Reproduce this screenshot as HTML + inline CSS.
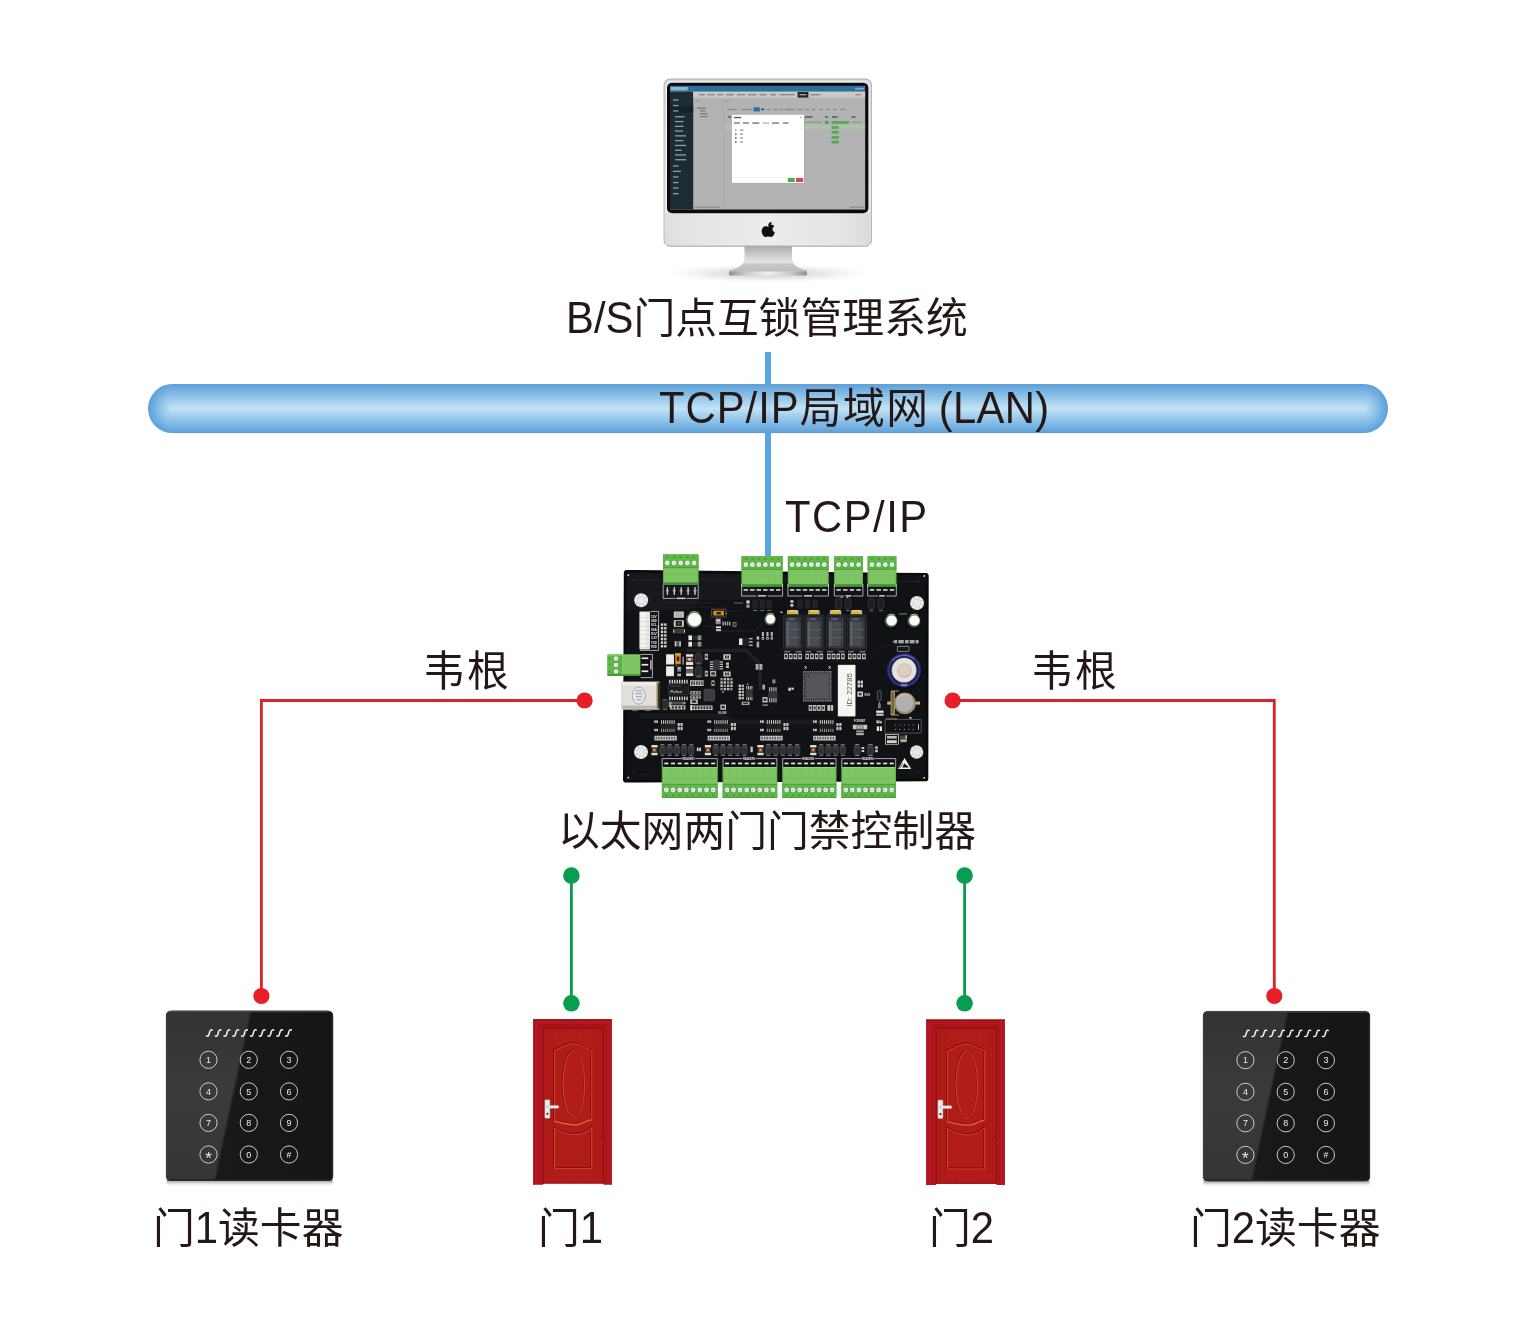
<!DOCTYPE html>
<html lang="zh-CN">
<head>
<meta charset="utf-8">
<title>以太网两门门禁控制器 系统拓扑</title>
<style>
html,body{margin:0;padding:0;background:#fff;}
body{width:1536px;height:1318px;position:relative;overflow:hidden;
 font-family:"Liberation Sans","Noto Sans CJK SC",sans-serif;font-weight:400;color:#231815;}
#g{position:absolute;left:0;top:0;display:block;will-change:transform;}
.lb{position:absolute;will-change:transform;white-space:nowrap;font-size:41.8px;line-height:50px;height:50px;margin:0;}
.lb .l{display:inline-block;transform:scaleY(1.06);transform-origin:0 39.6px;}
</style>
</head>
<body>

<svg id="g" width="1536" height="1318" viewBox="0 0 1536 1318">
<defs>
<linearGradient id="barG" x1="0" y1="0" x2="0" y2="1">
 <stop offset="0" stop-color="#5d9fd6"/>
 <stop offset="0.12" stop-color="#72b0e2"/>
 <stop offset="0.5" stop-color="#c3e3f6"/>
 <stop offset="0.88" stop-color="#72b0e2"/>
 <stop offset="1" stop-color="#5d9fd6"/>
</linearGradient>
<linearGradient id="mBody" x1="0" y1="0" x2="0" y2="1">
 <stop offset="0" stop-color="#d9dadc"/><stop offset="0.8" stop-color="#e6e7e9"/><stop offset="1" stop-color="#dcdddf"/>
</linearGradient>
<linearGradient id="mChin" x1="0" y1="0" x2="1" y2="0">
 <stop offset="0" stop-color="#dddee0"/><stop offset="0.12" stop-color="#e3e4e6"/><stop offset="0.5" stop-color="#ececee"/><stop offset="0.88" stop-color="#e3e4e6"/><stop offset="1" stop-color="#d9dadc"/>
</linearGradient>
<linearGradient id="mNeck" x1="0" y1="0" x2="0" y2="1">
 <stop offset="0" stop-color="#a9aaab"/><stop offset="0.25" stop-color="#c6c7c8"/><stop offset="0.55" stop-color="#e4e4e5"/><stop offset="0.62" stop-color="#c9c9ca"/><stop offset="0.85" stop-color="#bdbdbe"/><stop offset="1" stop-color="#d4d4d5"/>
</linearGradient>
<linearGradient id="mBase" x1="0" y1="0" x2="1" y2="0">
 <stop offset="0" stop-color="#8d8d8e"/><stop offset="0.2" stop-color="#c9c9ca"/><stop offset="0.5" stop-color="#f2f2f2"/><stop offset="0.8" stop-color="#c9c9ca"/><stop offset="1" stop-color="#8d8d8e"/>
</linearGradient>
<radialGradient id="mShadow" cx="0.5" cy="0.5" r="0.5">
 <stop offset="0" stop-color="#b9b9b9" stop-opacity="0.75"/><stop offset="0.55" stop-color="#cfcfcf" stop-opacity="0.45"/><stop offset="1" stop-color="#e8e8e8" stop-opacity="0"/>
</radialGradient>
<clipPath id="scrClip"><rect x="670" y="85.7" width="195.4" height="124"/></clipPath>

<linearGradient id="rdGloss" x1="0" y1="0" x2="0" y2="1">
 <stop offset="0" stop-color="#313233"/><stop offset="0.45" stop-color="#3a3a3b"/><stop offset="1" stop-color="#353536"/>
</linearGradient>
<linearGradient id="rdDark" x1="0" y1="0" x2="1" y2="0">
 <stop offset="0" stop-color="#1b1b1c"/><stop offset="1" stop-color="#151516"/>
</linearGradient>
<radialGradient id="rdSh" cx="0.5" cy="0.5" r="0.5">
 <stop offset="0.7" stop-color="#8a8a8a" stop-opacity="0.35"/><stop offset="1" stop-color="#c8c8c8" stop-opacity="0"/>
</radialGradient>
<clipPath id="rdClip"><rect x="166.1" y="1010.7" width="167" height="170.2" rx="5.2"/></clipPath>
<linearGradient id="drWood" x1="0" y1="0" x2="1" y2="0">
 <stop offset="0" stop-color="#b3161d"/><stop offset="0.5" stop-color="#ac141b"/><stop offset="1" stop-color="#b5171e"/>
</linearGradient>
<g id="sq"><path d="M5.9 0.6C4.7 0.2 3.9 0.7 3.6 1.9L2.6 5.3C2.3 6.5 1.5 7 0.2 6.7" fill="none" stroke="#f6f6f6" stroke-width="1.5" stroke-linecap="round"/></g>

<linearGradient id="rdShB" x1="0" y1="0" x2="0" y2="1">
 <stop offset="0" stop-color="#3a3a3a" stop-opacity="0.9"/><stop offset="0.42" stop-color="#6a6a6a" stop-opacity="0.75"/><stop offset="0.7" stop-color="#b5b5b5" stop-opacity="0.45"/><stop offset="1" stop-color="#f0f0f0" stop-opacity="0"/>
</linearGradient>
<radialGradient id="capL" gradientUnits="userSpaceOnUse" cx="172.5" cy="408.55" r="24.55">
 <stop offset="0" stop-color="#c3e3f6"/><stop offset="0.76" stop-color="#72b0e2"/><stop offset="1" stop-color="#5d9fd6"/>
</radialGradient>
<radialGradient id="capR" gradientUnits="userSpaceOnUse" cx="1363.5" cy="408.55" r="24.55">
 <stop offset="0" stop-color="#c3e3f6"/><stop offset="0.76" stop-color="#72b0e2"/><stop offset="1" stop-color="#5d9fd6"/>
</radialGradient>
</defs>

<!-- p_bar.svg -->
<g id="lan">
<rect x="765" y="352.1" width="6" height="204" fill="#58a6e0"/>
<ellipse cx="172.5" cy="408.55" rx="24.5" ry="24.55" fill="url(#capL)"/>
<ellipse cx="1363.5" cy="408.55" rx="24.5" ry="24.55" fill="url(#capR)"/>
<rect x="172" y="384" width="1192" height="49.1" fill="url(#barG)"/>
<rect x="765" y="384" width="6" height="49.1" fill="#58a6e0" opacity="0.12"/>
</g>

<!-- p_monitor.svg -->
<g id="monitor">
<!-- floor shadow -->
<ellipse cx="768" cy="273.5" rx="104" ry="9.5" fill="url(#mShadow)"/>
<!-- stand -->
<path d="M744.5 246H792V258.5C792 264 797 268 807 270.6V275.6H729.1V270.6C739 268 744.5 264 744.5 258.5Z" fill="url(#mNeck)"/>
<rect x="729.1" y="271.6" width="77.9" height="4" rx="1" fill="url(#mBase)"/>
<!-- body -->
<rect x="663.6" y="78.6" width="208.3" height="168.1" rx="6.5" fill="#a9aaac"/>
<rect x="664.4" y="79.4" width="206.7" height="166.3" rx="5.8" fill="url(#mBody)"/>
<rect x="665.5" y="213" width="204.5" height="32" fill="url(#mChin)"/>
<rect x="666" y="81.6" width="203.4" height="132.2" rx="5.5" fill="#f3f3f4"/>
<!-- bezel -->
<rect x="667" y="82.7" width="201.4" height="130.5" rx="5" fill="#0b0b0c"/>
<!-- screen -->
<g clip-path="url(#scrClip)">
<rect x="670" y="85.7" width="195.4" height="124" fill="#b3b3b3"/>
<rect x="670" y="85.7" width="195.4" height="6" fill="#2c6f9c"/>
<rect x="670.6" y="87" width="17" height="3.4" fill="#8fb6cf"/>
<rect x="855" y="87.8" width="9" height="1.8" fill="#7fa9c5"/>
<rect x="670" y="91.7" width="23.2" height="118" fill="#1d2b33"/>
<rect x="670" y="106.5" width="23.2" height="6" fill="#16222a"/>
<rect x="693.2" y="91.7" width="172.2" height="6" fill="#c9c9c9"/>
<rect x="797.6" y="92" width="10.8" height="5.6" fill="#1e2326"/>
<!-- tab labels -->
<g fill="#8a8a8a">
<rect x="699" y="94" width="6" height="1.4"/><rect x="707.5" y="94" width="7.5" height="1.4"/><rect x="717.5" y="94" width="6" height="1.4"/><rect x="726" y="94" width="8" height="1.4"/><rect x="737" y="94" width="8" height="1.4"/><rect x="748" y="94" width="8.5" height="1.4"/><rect x="759.5" y="94" width="7" height="1.4"/><rect x="770" y="94" width="6" height="1.4"/><rect x="779.5" y="94" width="15" height="1.4"/><rect x="810.5" y="94" width="10" height="1.4"/>
</g>
<rect x="855.5" y="94" width="5.5" height="1.4" fill="#c57a7a"/>
<rect x="799.5" y="94" width="7" height="1.4" fill="#9aa0a4"/>
<!-- sidebar items -->
<g fill="#8fa0a8">
<rect x="673" y="99.3" width="5.5" height="1.3"/><rect x="673" y="104.9" width="5.5" height="1.3"/><rect x="673" y="110.3" width="5.5" height="1.3"/>
<rect x="675" y="116.1" width="9.5" height="1.3"/><rect x="675" y="120.9" width="8.5" height="1.3"/><rect x="675" y="125.7" width="8.5" height="1.3"/><rect x="675" y="130.4" width="8" height="1.3"/><rect x="675" y="135.2" width="11" height="1.3"/><rect x="675" y="140" width="8.5" height="1.3"/><rect x="675" y="144.8" width="11" height="1.3"/><rect x="675" y="149.6" width="6.5" height="1.3"/><rect x="675" y="154.3" width="11" height="1.3"/><rect x="675" y="159.1" width="11" height="1.3"/>
<rect x="673" y="165.3" width="5.5" height="1.3"/><rect x="673" y="170.7" width="8" height="1.3"/><rect x="673" y="176.3" width="5.5" height="1.3"/><rect x="673" y="181.9" width="5.5" height="1.3"/><rect x="673" y="187.4" width="5.5" height="1.3"/><rect x="673" y="193" width="5.5" height="1.3"/>
</g>
<!-- tree / toolbar -->
<rect x="723.4" y="100" width="0.6" height="106" fill="#a6a6a6"/>
<g fill="#777">
<rect x="697" y="107.5" width="9" height="1.2"/><rect x="700" y="110.3" width="5.5" height="1.2"/><rect x="700" y="113.2" width="7.5" height="1.2"/><rect x="700" y="116" width="7.5" height="1.2"/>
</g>
<rect x="696" y="100.6" width="3" height="1.2" fill="#9a9a9a"/><rect x="724.5" y="100.6" width="6" height="1.2" fill="#88a4c9"/>
<g fill="#8c8c8c">
<rect x="727" y="108.8" width="10" height="1.3"/><rect x="741" y="108.8" width="11" height="1.3"/><rect x="761.2" y="108.6" width="3" height="1.6" fill="#444"/><rect x="767" y="108.8" width="4" height="1.3"/><rect x="773.5" y="108.8" width="4" height="1.3"/><rect x="779.5" y="108.8" width="4" height="1.3"/><rect x="785" y="108.8" width="10" height="1.3"/><rect x="797" y="108.8" width="6" height="1.3"/><rect x="805" y="108.8" width="4" height="1.3"/><rect x="812" y="108.8" width="3.5" height="1.3"/><rect x="819" y="108.8" width="4" height="1.3"/><rect x="826" y="108.8" width="4" height="1.3"/><rect x="833" y="108.8" width="4" height="1.3"/><rect x="840" y="108.8" width="6" height="1.3"/>
</g>
<rect x="753.6" y="107.3" width="6.2" height="4.2" fill="#2f6fb0"/>
<!-- table -->
<rect x="723.9" y="125.2" width="141.5" height="4" fill="#a9c7a5"/>
<g fill="#555">
<rect x="728" y="116.3" width="3.2" height="1.4"/><rect x="805" y="116.3" width="7.5" height="1.4"/><rect x="825" y="116.3" width="3" height="1.4"/><rect x="832" y="116.3" width="5.5" height="1.4"/><rect x="851.5" y="116.3" width="4" height="1.4"/>
</g>
<rect x="805" y="121.7" width="17" height="1.2" fill="#909090"/><rect x="851.5" y="121.7" width="10" height="1.2" fill="#909090"/>
<rect x="825" y="121" width="3.6" height="2.8" fill="#4f9a53"/>
<rect x="831.6" y="121" width="17.5" height="2.8" fill="#58a85b"/>
<rect x="831.6" y="126" width="7.2" height="2.9" fill="#58a85b"/>
<rect x="831.6" y="130.8" width="7.2" height="2.9" fill="#58a85b"/>
<rect x="831.6" y="136" width="7.2" height="2.9" fill="#58a85b"/>
<rect x="831.6" y="140.6" width="7.2" height="2.9" fill="#58a85b"/>
<!-- footer text -->
<rect x="694.5" y="206.6" width="25.5" height="1.2" fill="#8a8a8a"/><rect x="849.5" y="206.6" width="15" height="1.2" fill="#8a8a8a"/>
<!-- modal dialog -->
<rect x="731.4" y="114.2" width="73.2" height="69.2" fill="#9c9c9c" opacity="0.55"/>
<rect x="731.9" y="114.7" width="72.1" height="68.2" fill="#ffffff"/>
<rect x="734" y="116.9" width="7" height="1.3" fill="#555"/><rect x="800.3" y="116.7" width="1.5" height="1.5" fill="#aaa"/>
<g fill="#6d6d6d">
<rect x="734" y="122.4" width="5.8" height="1.3"/><rect x="743" y="122.4" width="5.8" height="1.3"/><rect x="752.3" y="122.4" width="7" height="1.3"/><rect x="762.5" y="122.4" width="6.5" height="1.3" fill="#b5b5b5"/><rect x="772" y="122.4" width="7" height="1.3"/><rect x="783" y="122.4" width="5.5" height="1.3"/>
</g>
<g fill="#3b7fc4"><rect x="735" y="129.2" width="1.6" height="1.8" fill="#9bbbe0"/><rect x="735" y="133.3" width="1.6" height="1.8"/><rect x="735" y="137.2" width="1.6" height="1.8"/><rect x="735" y="141.2" width="1.6" height="1.8"/></g>
<g fill="#9a9a9a"><rect x="740" y="129.4" width="3.6" height="1.3"/><rect x="740" y="133.5" width="3" height="1.3"/><rect x="740" y="137.4" width="3" height="1.3"/><rect x="740" y="141.4" width="3" height="1.3"/></g>
<rect x="731.9" y="177" width="72.1" height="0.5" fill="#e6e6e6"/>
<rect x="787.8" y="178.1" width="7" height="3.9" rx="0.6" fill="#4cae4f"/>
<rect x="796" y="178.1" width="7.2" height="3.9" rx="0.6" fill="#d94b4b"/>
</g>
<!-- apple logo -->
<g fill="#0e0e0e">
<path d="M768.4 226.9c-1.7-1.1-4.2-.9-5.6.8-1.7 2-1.4 5.300.2 7.500.9 1.300 2.100 2.100 3.300 1.700.900-.3 1.500-.5 2.300-.4.800.1 1.300.5 2.200.600 1.300.1 2.500-1.200 3.200-2.500.4-.7.600-1.300.8-2-1.500-.7-2.400-2-2.300-3.500.1-1.300.800-2.300 1.900-2.900-.9-1.200-2.400-1.700-3.700-1.400-.9.200-1.500.7-2.300.500z"/>
<path d="M768.300 225.800c-.1-1.400.600-2.500 1.500-3.200.500-.4 1.200-.7 1.800-.7.100 1.200-.4 2.300-1.200 3.100-.6.600-1.400.900-2.100.800z"/>
</g>
</g>

<!-- p_board.svg -->
<g id="board" font-family="'Liberation Sans',sans-serif">
<path d="M626.8 570.0L925.8 573.0Q928.7 573.0 928.7 576.0L928.3 778.4Q928.3 781.3 925.4 781.3L626.2 782.5Q623.0 782.5 623.0 779.4L623.8 573.0Q623.8 570.0 626.8 570.0Z" fill="#0a0a0c"/>
<path d="M628.0 572.4L924.6 575.2Q926.4 575.2 926.4 577L926.0 777.4Q926.0 779.2 924.2 779.2L627.4 780.2Q625.4 780.2 625.4 778.4L626.2 574.2Q626.2 572.4 628.0 572.4Z" fill="#111216"/>
<path d="M627 573L760 574.4V600H700L690 610H627Z" fill="#181a1f" opacity="0.8"/>
<path d="M633 579.4L920 581.6" fill="none" stroke="#23252a" stroke-width="0.9"/>
<path d="M633 774.6L920 773.6" fill="none" stroke="#1c1d20" stroke-width="0.8"/>
<path d="M651 614L661 603H718L726 611H742" fill="none" stroke="#25272b" stroke-width="0.7"/>
<path d="M655 617L664 607H716L723 614" fill="none" stroke="#202226" stroke-width="0.6"/>
<path d="M703 626H712L717 631H755L766 620" fill="none" stroke="#2a2c30" stroke-width="0.7"/>
<path d="M775 622L790 637V650" fill="none" stroke="#25272b" stroke-width="0.7"/>
<path d="M686 650.5H746L760 664V690" fill="none" stroke="#1e2024" stroke-width="3.4" stroke-linejoin="round"/>
<path d="M640 716H720L735 722H830" fill="none" stroke="#1a1b1e" stroke-width="5"/>
<path d="M868 660L884 646H897" fill="none" stroke="#222428" stroke-width="0.7"/>
<path d="M780 661H870" fill="none" stroke="#1d1e22" stroke-width="0.7"/>
<circle cx="628.3" cy="575.2" r="0.9" fill="#e6e6e6"/>
<circle cx="924.3" cy="576.0" r="0.9" fill="#e6e6e6"/>
<circle cx="628.3" cy="777.6" r="0.9" fill="#e6e6e6"/>
<circle cx="924.2" cy="777.8" r="0.9" fill="#e6e6e6"/>
<circle cx="633.0" cy="580.5" r="0.6" fill="#55565a"/>
<circle cx="919.0" cy="581.0" r="0.6" fill="#55565a"/>
<circle cx="633.0" cy="772.0" r="0.6" fill="#55565a"/>
<circle cx="919.0" cy="772.0" r="0.6" fill="#55565a"/>
<circle cx="641.2" cy="600.2" r="7.0" fill="#dedede"/>
<circle cx="641.2" cy="600.2" r="6.2" fill="#f1f1f1"/>
<circle cx="641.2" cy="600.2" r="4.3" fill="#d0d0d0"/>
<circle cx="641.2" cy="600.2" r="3.5" fill="#e9e9e9"/>
<circle cx="646.4" cy="601.8" r="0.7" fill="#b9b9b9"/>
<circle cx="643.7" cy="605.0" r="0.7" fill="#b9b9b9"/>
<circle cx="639.6" cy="605.4" r="0.7" fill="#b9b9b9"/>
<circle cx="636.4" cy="602.7" r="0.7" fill="#b9b9b9"/>
<circle cx="636.0" cy="598.6" r="0.7" fill="#b9b9b9"/>
<circle cx="638.7" cy="595.4" r="0.7" fill="#b9b9b9"/>
<circle cx="642.8" cy="595.0" r="0.7" fill="#b9b9b9"/>
<circle cx="646.0" cy="597.7" r="0.7" fill="#b9b9b9"/>
<circle cx="917.0" cy="603.0" r="7.0" fill="#dedede"/>
<circle cx="917.0" cy="603.0" r="6.2" fill="#f1f1f1"/>
<circle cx="917.0" cy="603.0" r="4.3" fill="#d0d0d0"/>
<circle cx="917.0" cy="603.0" r="3.5" fill="#e9e9e9"/>
<circle cx="922.2" cy="604.6" r="0.7" fill="#b9b9b9"/>
<circle cx="919.5" cy="607.8" r="0.7" fill="#b9b9b9"/>
<circle cx="915.4" cy="608.2" r="0.7" fill="#b9b9b9"/>
<circle cx="912.2" cy="605.5" r="0.7" fill="#b9b9b9"/>
<circle cx="911.8" cy="601.4" r="0.7" fill="#b9b9b9"/>
<circle cx="914.5" cy="598.2" r="0.7" fill="#b9b9b9"/>
<circle cx="918.6" cy="597.8" r="0.7" fill="#b9b9b9"/>
<circle cx="921.8" cy="600.5" r="0.7" fill="#b9b9b9"/>
<circle cx="641.0" cy="752.0" r="7.0" fill="#dedede"/>
<circle cx="641.0" cy="752.0" r="6.2" fill="#f1f1f1"/>
<circle cx="641.0" cy="752.0" r="4.3" fill="#d0d0d0"/>
<circle cx="641.0" cy="752.0" r="3.5" fill="#e9e9e9"/>
<circle cx="646.2" cy="753.6" r="0.7" fill="#b9b9b9"/>
<circle cx="643.5" cy="756.8" r="0.7" fill="#b9b9b9"/>
<circle cx="639.4" cy="757.2" r="0.7" fill="#b9b9b9"/>
<circle cx="636.2" cy="754.5" r="0.7" fill="#b9b9b9"/>
<circle cx="635.8" cy="750.4" r="0.7" fill="#b9b9b9"/>
<circle cx="638.5" cy="747.2" r="0.7" fill="#b9b9b9"/>
<circle cx="642.6" cy="746.8" r="0.7" fill="#b9b9b9"/>
<circle cx="645.8" cy="749.5" r="0.7" fill="#b9b9b9"/>
<circle cx="916.6" cy="752.0" r="6.7" fill="#dedede"/>
<circle cx="916.6" cy="752.0" r="5.9" fill="#f1f1f1"/>
<circle cx="916.6" cy="752.0" r="4.2" fill="#d0d0d0"/>
<circle cx="916.6" cy="752.0" r="3.4" fill="#e9e9e9"/>
<circle cx="921.6" cy="753.5" r="0.7" fill="#b9b9b9"/>
<circle cx="919.0" cy="756.6" r="0.7" fill="#b9b9b9"/>
<circle cx="915.1" cy="757.0" r="0.7" fill="#b9b9b9"/>
<circle cx="912.0" cy="754.4" r="0.7" fill="#b9b9b9"/>
<circle cx="911.6" cy="750.5" r="0.7" fill="#b9b9b9"/>
<circle cx="914.2" cy="747.4" r="0.7" fill="#b9b9b9"/>
<circle cx="918.1" cy="747.0" r="0.7" fill="#b9b9b9"/>
<circle cx="921.2" cy="749.6" r="0.7" fill="#b9b9b9"/>
<rect x="663.0" y="554.3" width="35.4" height="30.5" rx="1.2" fill="#7ec663"/>
<rect x="663.0" y="554.3" width="35.4" height="13.4" rx="1.2" fill="#62b84a"/>
<rect x="663.0" y="567.1" width="35.4" height="1.1" fill="#4a9f3b"/>
<rect x="663.0" y="573.9" width="35.4" height="0.7" fill="#6fbb57"/>
<rect x="663.0" y="582.4" width="35.4" height="2.4" fill="#3f9135"/>
<rect x="663.0" y="554.3" width="0.8" height="30.5" fill="#58ad44"/>
<rect x="697.6" y="554.3" width="0.8" height="30.5" fill="#58ad44"/>
<rect x="666.0" y="556.6" width="2.6" height="1.2" rx="0.4" fill="#3f9135"/>
<circle cx="667.3" cy="563.0" r="3.0" fill="#4a9f3b"/>
<circle cx="667.3" cy="563.0" r="2.4" fill="#f1f5ef"/>
<circle cx="667.6" cy="563.3" r="1.1" fill="#cfd8cf"/>
<rect x="672.7" y="556.6" width="2.6" height="1.2" rx="0.4" fill="#3f9135"/>
<circle cx="674.0" cy="563.0" r="3.0" fill="#4a9f3b"/>
<circle cx="674.0" cy="563.0" r="2.4" fill="#f1f5ef"/>
<circle cx="674.3" cy="563.3" r="1.1" fill="#cfd8cf"/>
<rect x="670.4" y="568.5" width="0.5" height="13.5" fill="#74bf5b"/>
<rect x="679.4" y="556.6" width="2.6" height="1.2" rx="0.4" fill="#3f9135"/>
<circle cx="680.7" cy="563.0" r="3.0" fill="#4a9f3b"/>
<circle cx="680.7" cy="563.0" r="2.4" fill="#f1f5ef"/>
<circle cx="681.0" cy="563.3" r="1.1" fill="#cfd8cf"/>
<rect x="677.1" y="568.5" width="0.5" height="13.5" fill="#74bf5b"/>
<rect x="686.1" y="556.6" width="2.6" height="1.2" rx="0.4" fill="#3f9135"/>
<circle cx="687.4" cy="563.0" r="3.0" fill="#4a9f3b"/>
<circle cx="687.4" cy="563.0" r="2.4" fill="#f1f5ef"/>
<circle cx="687.7" cy="563.3" r="1.1" fill="#cfd8cf"/>
<rect x="683.8" y="568.5" width="0.5" height="13.5" fill="#74bf5b"/>
<rect x="692.8" y="556.6" width="2.6" height="1.2" rx="0.4" fill="#3f9135"/>
<circle cx="694.1" cy="563.0" r="3.0" fill="#4a9f3b"/>
<circle cx="694.1" cy="563.0" r="2.4" fill="#f1f5ef"/>
<circle cx="694.4" cy="563.3" r="1.1" fill="#cfd8cf"/>
<rect x="690.5" y="568.5" width="0.5" height="13.5" fill="#74bf5b"/>
<rect x="741.6" y="556.0" width="41.0" height="30.6" rx="1.2" fill="#7ec663"/>
<rect x="741.6" y="556.0" width="41.0" height="13.4" rx="1.2" fill="#62b84a"/>
<rect x="741.6" y="568.8" width="41.0" height="1.1" fill="#4a9f3b"/>
<rect x="741.6" y="575.6" width="41.0" height="0.7" fill="#6fbb57"/>
<rect x="741.6" y="584.2" width="41.0" height="2.4" fill="#3f9135"/>
<rect x="741.6" y="556.0" width="0.8" height="30.6" fill="#58ad44"/>
<rect x="781.8" y="556.0" width="0.8" height="30.6" fill="#58ad44"/>
<rect x="744.6" y="558.3" width="2.6" height="1.2" rx="0.4" fill="#3f9135"/>
<circle cx="745.9" cy="564.7" r="3.0" fill="#4a9f3b"/>
<circle cx="745.9" cy="564.7" r="2.4" fill="#f1f5ef"/>
<circle cx="746.1" cy="565.0" r="1.1" fill="#cfd8cf"/>
<rect x="751.1" y="558.3" width="2.6" height="1.2" rx="0.4" fill="#3f9135"/>
<circle cx="752.4" cy="564.7" r="3.0" fill="#4a9f3b"/>
<circle cx="752.4" cy="564.7" r="2.4" fill="#f1f5ef"/>
<circle cx="752.6" cy="565.0" r="1.1" fill="#cfd8cf"/>
<rect x="748.9" y="570.2" width="0.5" height="13.6" fill="#74bf5b"/>
<rect x="757.6" y="558.3" width="2.6" height="1.2" rx="0.4" fill="#3f9135"/>
<circle cx="758.9" cy="564.7" r="3.0" fill="#4a9f3b"/>
<circle cx="758.9" cy="564.7" r="2.4" fill="#f1f5ef"/>
<circle cx="759.1" cy="565.0" r="1.1" fill="#cfd8cf"/>
<rect x="755.4" y="570.2" width="0.5" height="13.6" fill="#74bf5b"/>
<rect x="764.1" y="558.3" width="2.6" height="1.2" rx="0.4" fill="#3f9135"/>
<circle cx="765.4" cy="564.7" r="3.0" fill="#4a9f3b"/>
<circle cx="765.4" cy="564.7" r="2.4" fill="#f1f5ef"/>
<circle cx="765.6" cy="565.0" r="1.1" fill="#cfd8cf"/>
<rect x="761.9" y="570.2" width="0.5" height="13.6" fill="#74bf5b"/>
<rect x="770.6" y="558.3" width="2.6" height="1.2" rx="0.4" fill="#3f9135"/>
<circle cx="771.9" cy="564.7" r="3.0" fill="#4a9f3b"/>
<circle cx="771.9" cy="564.7" r="2.4" fill="#f1f5ef"/>
<circle cx="772.1" cy="565.0" r="1.1" fill="#cfd8cf"/>
<rect x="768.4" y="570.2" width="0.5" height="13.6" fill="#74bf5b"/>
<rect x="777.1" y="558.3" width="2.6" height="1.2" rx="0.4" fill="#3f9135"/>
<circle cx="778.4" cy="564.7" r="3.0" fill="#4a9f3b"/>
<circle cx="778.4" cy="564.7" r="2.4" fill="#f1f5ef"/>
<circle cx="778.6" cy="565.0" r="1.1" fill="#cfd8cf"/>
<rect x="774.9" y="570.2" width="0.5" height="13.6" fill="#74bf5b"/>
<rect x="787.9" y="556.0" width="40.6" height="30.6" rx="1.2" fill="#7ec663"/>
<rect x="787.9" y="556.0" width="40.6" height="13.4" rx="1.2" fill="#62b84a"/>
<rect x="787.9" y="568.8" width="40.6" height="1.1" fill="#4a9f3b"/>
<rect x="787.9" y="575.6" width="40.6" height="0.7" fill="#6fbb57"/>
<rect x="787.9" y="584.2" width="40.6" height="2.4" fill="#3f9135"/>
<rect x="787.9" y="556.0" width="0.8" height="30.6" fill="#58ad44"/>
<rect x="827.7" y="556.0" width="0.8" height="30.6" fill="#58ad44"/>
<rect x="790.8" y="558.3" width="2.6" height="1.2" rx="0.4" fill="#3f9135"/>
<circle cx="792.1" cy="564.7" r="3.0" fill="#4a9f3b"/>
<circle cx="792.1" cy="564.7" r="2.4" fill="#f1f5ef"/>
<circle cx="792.4" cy="565.0" r="1.1" fill="#cfd8cf"/>
<rect x="797.2" y="558.3" width="2.6" height="1.2" rx="0.4" fill="#3f9135"/>
<circle cx="798.5" cy="564.7" r="3.0" fill="#4a9f3b"/>
<circle cx="798.5" cy="564.7" r="2.4" fill="#f1f5ef"/>
<circle cx="798.8" cy="565.0" r="1.1" fill="#cfd8cf"/>
<rect x="795.1" y="570.2" width="0.5" height="13.6" fill="#74bf5b"/>
<rect x="803.7" y="558.3" width="2.6" height="1.2" rx="0.4" fill="#3f9135"/>
<circle cx="805.0" cy="564.7" r="3.0" fill="#4a9f3b"/>
<circle cx="805.0" cy="564.7" r="2.4" fill="#f1f5ef"/>
<circle cx="805.3" cy="565.0" r="1.1" fill="#cfd8cf"/>
<rect x="801.5" y="570.2" width="0.5" height="13.6" fill="#74bf5b"/>
<rect x="810.1" y="558.3" width="2.6" height="1.2" rx="0.4" fill="#3f9135"/>
<circle cx="811.4" cy="564.7" r="3.0" fill="#4a9f3b"/>
<circle cx="811.4" cy="564.7" r="2.4" fill="#f1f5ef"/>
<circle cx="811.7" cy="565.0" r="1.1" fill="#cfd8cf"/>
<rect x="808.0" y="570.2" width="0.5" height="13.6" fill="#74bf5b"/>
<rect x="816.6" y="558.3" width="2.6" height="1.2" rx="0.4" fill="#3f9135"/>
<circle cx="817.9" cy="564.7" r="3.0" fill="#4a9f3b"/>
<circle cx="817.9" cy="564.7" r="2.4" fill="#f1f5ef"/>
<circle cx="818.1" cy="565.0" r="1.1" fill="#cfd8cf"/>
<rect x="814.4" y="570.2" width="0.5" height="13.6" fill="#74bf5b"/>
<rect x="823.0" y="558.3" width="2.6" height="1.2" rx="0.4" fill="#3f9135"/>
<circle cx="824.3" cy="564.7" r="3.0" fill="#4a9f3b"/>
<circle cx="824.3" cy="564.7" r="2.4" fill="#f1f5ef"/>
<circle cx="824.6" cy="565.0" r="1.1" fill="#cfd8cf"/>
<rect x="820.8" y="570.2" width="0.5" height="13.6" fill="#74bf5b"/>
<rect x="834.3" y="556.0" width="28.6" height="30.6" rx="1.2" fill="#7ec663"/>
<rect x="834.3" y="556.0" width="28.6" height="13.4" rx="1.2" fill="#62b84a"/>
<rect x="834.3" y="568.8" width="28.6" height="1.1" fill="#4a9f3b"/>
<rect x="834.3" y="575.6" width="28.6" height="0.7" fill="#6fbb57"/>
<rect x="834.3" y="584.2" width="28.6" height="2.4" fill="#3f9135"/>
<rect x="834.3" y="556.0" width="0.8" height="30.6" fill="#58ad44"/>
<rect x="862.1" y="556.0" width="0.8" height="30.6" fill="#58ad44"/>
<rect x="837.3" y="558.3" width="2.6" height="1.2" rx="0.4" fill="#3f9135"/>
<circle cx="838.6" cy="564.7" r="3.0" fill="#4a9f3b"/>
<circle cx="838.6" cy="564.7" r="2.4" fill="#f1f5ef"/>
<circle cx="838.9" cy="565.0" r="1.1" fill="#cfd8cf"/>
<rect x="844.0" y="558.3" width="2.6" height="1.2" rx="0.4" fill="#3f9135"/>
<circle cx="845.3" cy="564.7" r="3.0" fill="#4a9f3b"/>
<circle cx="845.3" cy="564.7" r="2.4" fill="#f1f5ef"/>
<circle cx="845.6" cy="565.0" r="1.1" fill="#cfd8cf"/>
<rect x="841.7" y="570.2" width="0.5" height="13.6" fill="#74bf5b"/>
<rect x="850.6" y="558.3" width="2.6" height="1.2" rx="0.4" fill="#3f9135"/>
<circle cx="851.9" cy="564.7" r="3.0" fill="#4a9f3b"/>
<circle cx="851.9" cy="564.7" r="2.4" fill="#f1f5ef"/>
<circle cx="852.2" cy="565.0" r="1.1" fill="#cfd8cf"/>
<rect x="848.3" y="570.2" width="0.5" height="13.6" fill="#74bf5b"/>
<rect x="857.3" y="558.3" width="2.6" height="1.2" rx="0.4" fill="#3f9135"/>
<circle cx="858.6" cy="564.7" r="3.0" fill="#4a9f3b"/>
<circle cx="858.6" cy="564.7" r="2.4" fill="#f1f5ef"/>
<circle cx="858.9" cy="565.0" r="1.1" fill="#cfd8cf"/>
<rect x="855.0" y="570.2" width="0.5" height="13.6" fill="#74bf5b"/>
<rect x="867.7" y="556.0" width="28.6" height="30.6" rx="1.2" fill="#7ec663"/>
<rect x="867.7" y="556.0" width="28.6" height="13.4" rx="1.2" fill="#62b84a"/>
<rect x="867.7" y="568.8" width="28.6" height="1.1" fill="#4a9f3b"/>
<rect x="867.7" y="575.6" width="28.6" height="0.7" fill="#6fbb57"/>
<rect x="867.7" y="584.2" width="28.6" height="2.4" fill="#3f9135"/>
<rect x="867.7" y="556.0" width="0.8" height="30.6" fill="#58ad44"/>
<rect x="895.5" y="556.0" width="0.8" height="30.6" fill="#58ad44"/>
<rect x="870.7" y="558.3" width="2.6" height="1.2" rx="0.4" fill="#3f9135"/>
<circle cx="872.0" cy="564.7" r="3.0" fill="#4a9f3b"/>
<circle cx="872.0" cy="564.7" r="2.4" fill="#f1f5ef"/>
<circle cx="872.3" cy="565.0" r="1.1" fill="#cfd8cf"/>
<rect x="877.4" y="558.3" width="2.6" height="1.2" rx="0.4" fill="#3f9135"/>
<circle cx="878.7" cy="564.7" r="3.0" fill="#4a9f3b"/>
<circle cx="878.7" cy="564.7" r="2.4" fill="#f1f5ef"/>
<circle cx="879.0" cy="565.0" r="1.1" fill="#cfd8cf"/>
<rect x="875.1" y="570.2" width="0.5" height="13.6" fill="#74bf5b"/>
<rect x="884.0" y="558.3" width="2.6" height="1.2" rx="0.4" fill="#3f9135"/>
<circle cx="885.3" cy="564.7" r="3.0" fill="#4a9f3b"/>
<circle cx="885.3" cy="564.7" r="2.4" fill="#f1f5ef"/>
<circle cx="885.6" cy="565.0" r="1.1" fill="#cfd8cf"/>
<rect x="881.8" y="570.2" width="0.5" height="13.6" fill="#74bf5b"/>
<rect x="890.7" y="558.3" width="2.6" height="1.2" rx="0.4" fill="#3f9135"/>
<circle cx="892.0" cy="564.7" r="3.0" fill="#4a9f3b"/>
<circle cx="892.0" cy="564.7" r="2.4" fill="#f1f5ef"/>
<circle cx="892.3" cy="565.0" r="1.1" fill="#cfd8cf"/>
<rect x="888.4" y="570.2" width="0.5" height="13.6" fill="#74bf5b"/>
<path d="M663.2 585V598.4H675.5M686.5 598.4H698.2V585" fill="none" stroke="#e9e9e6" stroke-width="0.7"/>
<rect x="676.5" y="597.6" width="9.0" height="1.5" fill="#cfcfcc"/>
<rect x="666.7" y="587.2" width="1.4" height="7.6" fill="#cfcfcc"/>
<rect x="665.8" y="590.4" width="3.2" height="0.8" fill="#cfcfcc"/>
<rect x="673.6" y="587.2" width="1.4" height="7.6" fill="#cfcfcc"/>
<rect x="672.7" y="590.4" width="3.2" height="0.8" fill="#cfcfcc"/>
<rect x="680.5" y="587.2" width="1.4" height="7.6" fill="#cfcfcc"/>
<rect x="679.6" y="590.4" width="3.2" height="0.8" fill="#cfcfcc"/>
<rect x="687.4" y="587.2" width="1.4" height="7.6" fill="#cfcfcc"/>
<rect x="686.5" y="590.4" width="3.2" height="0.8" fill="#cfcfcc"/>
<rect x="694.3" y="587.2" width="1.4" height="7.6" fill="#cfcfcc"/>
<rect x="693.4" y="590.4" width="3.2" height="0.8" fill="#cfcfcc"/>
<path d="M741.6 584V596.0H756.4M767.8 596.0H782.6V584" fill="none" stroke="#e9e9e6" stroke-width="0.7"/>
<rect x="758.0" y="595.1" width="8.2" height="1.5" fill="#cfcfcc"/>
<rect x="743.6" y="589.2" width="4.4" height="1.5" fill="#e9e9e6"/>
<rect x="750.1" y="589.2" width="4.4" height="1.5" fill="#e9e9e6"/>
<rect x="756.6" y="589.2" width="4.4" height="1.5" fill="#e9e9e6"/>
<rect x="763.1" y="589.2" width="4.4" height="1.5" fill="#e9e9e6"/>
<rect x="769.6" y="589.2" width="4.4" height="1.5" fill="#e9e9e6"/>
<rect x="776.1" y="589.2" width="4.4" height="1.5" fill="#e9e9e6"/>
<path d="M787.9 584V596.0H802.5M813.9 596.0H828.5V584" fill="none" stroke="#e9e9e6" stroke-width="0.7"/>
<rect x="804.1" y="595.1" width="8.1" height="1.5" fill="#cfcfcc"/>
<rect x="789.9" y="589.2" width="4.4" height="1.5" fill="#e9e9e6"/>
<rect x="796.3" y="589.2" width="4.4" height="1.5" fill="#e9e9e6"/>
<rect x="802.8" y="589.2" width="4.4" height="1.5" fill="#e9e9e6"/>
<rect x="809.2" y="589.2" width="4.4" height="1.5" fill="#e9e9e6"/>
<rect x="815.6" y="589.2" width="4.4" height="1.5" fill="#e9e9e6"/>
<rect x="822.1" y="589.2" width="4.4" height="1.5" fill="#e9e9e6"/>
<path d="M834.3 584V596.0H844.6M852.6 596.0H862.9V584" fill="none" stroke="#e9e9e6" stroke-width="0.7"/>
<rect x="845.7" y="595.1" width="5.7" height="1.5" fill="#cfcfcc"/>
<rect x="836.4" y="589.2" width="4.4" height="1.5" fill="#e9e9e6"/>
<rect x="843.1" y="589.2" width="4.4" height="1.5" fill="#e9e9e6"/>
<rect x="849.7" y="589.2" width="4.4" height="1.5" fill="#e9e9e6"/>
<rect x="856.4" y="589.2" width="4.4" height="1.5" fill="#e9e9e6"/>
<path d="M867.7 584V596.0H878.0M886.0 596.0H896.3V584" fill="none" stroke="#e9e9e6" stroke-width="0.7"/>
<rect x="879.1" y="595.1" width="5.7" height="1.5" fill="#cfcfcc"/>
<rect x="869.8" y="589.2" width="4.4" height="1.5" fill="#e9e9e6"/>
<rect x="876.5" y="589.2" width="4.4" height="1.5" fill="#e9e9e6"/>
<rect x="883.1" y="589.2" width="4.4" height="1.5" fill="#e9e9e6"/>
<rect x="889.8" y="589.2" width="4.4" height="1.5" fill="#e9e9e6"/>
<rect x="752.3" y="599.6" width="5.6" height="9.2" rx="1.2" fill="#222326"/>
<rect x="753.1" y="610.0" width="4.0" height="0.9" fill="#77787a"/>
<rect x="759.4" y="599.6" width="5.6" height="9.2" rx="1.2" fill="#222326"/>
<rect x="760.2" y="610.0" width="4.0" height="0.9" fill="#77787a"/>
<rect x="766.5" y="599.6" width="5.6" height="9.2" rx="1.2" fill="#222326"/>
<rect x="767.3" y="610.0" width="4.0" height="0.9" fill="#77787a"/>
<rect x="746.4" y="600.4" width="3.2" height="3.2" fill="#cfcfcc"/>
<rect x="746.4" y="604.6" width="3.2" height="3.2" fill="#9a9a98"/>
<rect x="734.0" y="602.4" width="9.0" height="1.2" fill="#5c5d60"/>
<rect x="797.3" y="599.6" width="5.6" height="9.2" rx="1.2" fill="#222326"/>
<rect x="804.7" y="599.6" width="5.6" height="9.2" rx="1.2" fill="#222326"/>
<rect x="812.1" y="599.6" width="5.6" height="9.2" rx="1.2" fill="#222326"/>
<rect x="790.4" y="600.2" width="3.0" height="2.6" fill="#cfcfcc"/>
<rect x="790.4" y="604.0" width="3.0" height="2.6" fill="#cfcfcc"/>
<rect x="835.5" y="598.6" width="6.0" height="10.4" rx="2.4" fill="#1e1f22" stroke="#4a4b4e" stroke-width="0.5"/>
<rect x="836.7" y="610.2" width="3.6" height="0.9" fill="#7c7d7f"/>
<rect x="845.0" y="598.6" width="6.0" height="10.4" rx="2.4" fill="#1e1f22" stroke="#4a4b4e" stroke-width="0.5"/>
<rect x="846.2" y="610.2" width="3.6" height="0.9" fill="#7c7d7f"/>
<rect x="868.4" y="598.6" width="6.0" height="10.4" rx="2.4" fill="#1e1f22" stroke="#4a4b4e" stroke-width="0.5"/>
<rect x="869.6" y="610.2" width="3.6" height="0.9" fill="#7c7d7f"/>
<rect x="878.0" y="598.6" width="6.0" height="10.4" rx="2.4" fill="#1e1f22" stroke="#4a4b4e" stroke-width="0.5"/>
<rect x="879.2" y="610.2" width="3.6" height="0.9" fill="#7c7d7f"/>
<rect x="840.6" y="596.8" width="2.0" height="1.0" fill="#cfcfcc"/>
<rect x="846.4" y="596.8" width="2.0" height="1.0" fill="#cfcfcc"/>
<path d="M650.2 611.4H658.6V650.4H639.8" fill="none" stroke="#e9e9e6" stroke-width="0.7"/>
<rect x="639.4" y="611.4" width="10.6" height="38.0" rx="0.8" fill="#e4e4e2"/>
<rect x="640.4" y="612.4" width="6.0" height="36.0" fill="#f3f3f2"/>
<text x="651.0" y="617.7" font-size="3.3" font-weight="bold" fill="#f0f0ee" textLength="5.8" lengthAdjust="spacingAndGlyphs">12V</text>
<rect x="640.2" y="617.3" width="9.0" height="0.5" fill="#c9c9c7"/>
<text x="651.0" y="622.0" font-size="3.3" font-weight="bold" fill="#f0f0ee" textLength="5.8" lengthAdjust="spacingAndGlyphs">GND</text>
<rect x="640.2" y="621.6" width="9.0" height="0.5" fill="#c9c9c7"/>
<text x="651.0" y="626.3" font-size="3.3" font-weight="bold" fill="#f0f0ee" textLength="5.8" lengthAdjust="spacingAndGlyphs">SCL</text>
<rect x="640.2" y="625.9" width="9.0" height="0.5" fill="#c9c9c7"/>
<text x="651.0" y="630.6" font-size="3.3" font-weight="bold" fill="#f0f0ee" textLength="5.8" lengthAdjust="spacingAndGlyphs">SDA</text>
<rect x="640.2" y="630.2" width="9.0" height="0.5" fill="#c9c9c7"/>
<text x="651.0" y="634.9" font-size="3.3" font-weight="bold" fill="#f0f0ee" textLength="5.8" lengthAdjust="spacingAndGlyphs">5V</text>
<rect x="640.2" y="634.5" width="9.0" height="0.5" fill="#c9c9c7"/>
<text x="651.0" y="639.2" font-size="3.3" font-weight="bold" fill="#f0f0ee" textLength="5.8" lengthAdjust="spacingAndGlyphs">3.3V</text>
<rect x="640.2" y="638.8" width="9.0" height="0.5" fill="#c9c9c7"/>
<text x="651.0" y="643.5" font-size="3.3" font-weight="bold" fill="#f0f0ee" textLength="5.8" lengthAdjust="spacingAndGlyphs">TXD</text>
<rect x="640.2" y="643.1" width="9.0" height="0.5" fill="#c9c9c7"/>
<text x="651.0" y="647.8" font-size="3.3" font-weight="bold" fill="#f0f0ee" textLength="5.8" lengthAdjust="spacingAndGlyphs">RXD</text>
<rect x="640.2" y="647.4" width="9.0" height="0.5" fill="#c9c9c7"/>
<rect x="657.8" y="625.5" width="1.2" height="12.0" fill="#cfcfcc"/>
<rect x="660.8" y="623.4" width="2.4" height="2.5" fill="#cfcfcd"/>
<rect x="664.0" y="623.4" width="2.6" height="2.5" fill="#bdbdbb"/>
<rect x="660.8" y="627.0" width="2.4" height="2.5" fill="#cfcfcd"/>
<rect x="664.0" y="627.0" width="2.6" height="2.5" fill="#bdbdbb"/>
<rect x="660.8" y="630.6" width="2.4" height="2.5" fill="#cfcfcd"/>
<rect x="664.0" y="630.6" width="2.6" height="2.5" fill="#bdbdbb"/>
<rect x="660.8" y="634.2" width="2.4" height="2.5" fill="#cfcfcd"/>
<rect x="664.0" y="634.2" width="2.6" height="2.5" fill="#bdbdbb"/>
<rect x="660.8" y="637.8" width="2.4" height="2.5" fill="#cfcfcd"/>
<rect x="664.0" y="637.8" width="2.6" height="2.5" fill="#bdbdbb"/>
<rect x="660.8" y="641.4" width="2.4" height="2.5" fill="#cfcfcd"/>
<rect x="664.0" y="641.4" width="2.6" height="2.5" fill="#bdbdbb"/>
<rect x="660.8" y="645.0" width="2.4" height="2.5" fill="#cfcfcd"/>
<rect x="664.0" y="645.0" width="2.6" height="2.5" fill="#bdbdbb"/>
<rect x="607.4" y="654.6" width="33.0" height="21.2" rx="1.2" fill="#7ec663"/>
<rect x="607.4" y="654.6" width="13.6" height="21.2" rx="1.2" fill="#62b84a"/>
<rect x="620.6" y="654.6" width="0.9" height="21.2" fill="#4a9f3b"/>
<rect x="607.4" y="674.2" width="33.0" height="1.6" fill="#3f9135"/>
<rect x="607.4" y="654.6" width="33.0" height="1.0" fill="#86d36c"/>
<circle cx="616.0" cy="658.6" r="2.9" fill="#48a23a"/>
<circle cx="616.0" cy="658.6" r="2.3" fill="#eef3ec"/>
<circle cx="616.2" cy="658.8" r="1.0" fill="#c3cdc5"/>
<rect x="609.0" y="657.4" width="1.2" height="2.4" rx="0.4" fill="#3f9135"/>
<circle cx="616.0" cy="665.1" r="2.9" fill="#48a23a"/>
<circle cx="616.0" cy="665.1" r="2.3" fill="#eef3ec"/>
<circle cx="616.2" cy="665.3" r="1.0" fill="#c3cdc5"/>
<rect x="609.0" y="663.9" width="1.2" height="2.4" rx="0.4" fill="#3f9135"/>
<circle cx="616.0" cy="671.5" r="2.9" fill="#48a23a"/>
<circle cx="616.0" cy="671.5" r="2.3" fill="#eef3ec"/>
<circle cx="616.2" cy="671.7" r="1.0" fill="#c3cdc5"/>
<rect x="609.0" y="670.3" width="1.2" height="2.4" rx="0.4" fill="#3f9135"/>
<path d="M640.6 654.4H652.4V677.6H640.6" fill="none" stroke="#e9e9e6" stroke-width="0.7"/>
<rect x="641.6" y="657.4" width="6.6" height="1.7" fill="#e9e9e6"/>
<rect x="641.6" y="663.9" width="6.6" height="1.7" fill="#e9e9e6"/>
<rect x="641.6" y="670.4" width="6.6" height="1.7" fill="#e9e9e6"/>
<rect x="650.2" y="660.2" width="1.3" height="9.5" fill="#cfcfcc"/>
<rect x="621.4" y="681.4" width="38.4" height="28.4" rx="1.2" fill="#cfccc4"/>
<rect x="622.2" y="682.2" width="35.4" height="26.6" rx="1.0" fill="#e3e0d9"/>
<rect x="622.2" y="682.2" width="35.4" height="3.2" fill="#eeece6"/>
<rect x="622.2" y="705.6" width="35.4" height="3.2" fill="#bdb9b0"/>
<rect x="657.0" y="682.6" width="3.2" height="26.0" fill="#3a352a"/>
<rect x="656.4" y="682.6" width="1.4" height="26.0" fill="#a89a72"/>
<ellipse cx="638.8" cy="695.6" rx="6.6" ry="8.6" fill="#e9e7e2" stroke="#7f92b5" stroke-width="0.7"/>
<rect x="635.8" y="690.4" width="6.0" height="1.0" fill="#8a9bbb"/>
<rect x="635.2" y="693.2" width="7.2" height="1.0" fill="#8a9bbb"/>
<rect x="635.8" y="696.2" width="6.0" height="1.0" fill="#8a9bbb"/>
<rect x="636.6" y="699.2" width="4.4" height="1.0" fill="#8a9bbb"/>
<rect x="632.0" y="709.8" width="6.0" height="0.9" fill="#8b8b88"/>
<rect x="645.0" y="709.8" width="6.0" height="0.9" fill="#8b8b88"/>
<circle cx="693.5" cy="620.4" r="9.5" fill="#050607"/>
<circle cx="693.8" cy="620.1" r="8.6" fill="#1f3a33"/>
<circle cx="694.3" cy="619.8" r="7.7" fill="#5a6e52"/>
<circle cx="694.5" cy="619.6" r="6.9" fill="#e3ebe2"/>
<circle cx="694.5" cy="619.4" r="6.1" fill="#fbfdfb"/>
<path d="M689.6 613.1A8.6 8.6 0 0 1 699.0 613.1" fill="none" stroke="#cfc56f" stroke-width="0.9"/>
<circle cx="769.5" cy="619.9" r="7.3" fill="#050607"/>
<circle cx="769.8" cy="619.6" r="6.4" fill="#1f3a33"/>
<circle cx="770.3" cy="619.3" r="5.5" fill="#5a6e52"/>
<circle cx="770.5" cy="619.1" r="4.7" fill="#e3ebe2"/>
<circle cx="770.5" cy="618.9" r="3.9" fill="#fbfdfb"/>
<path d="M766.8 614.3A6.4 6.4 0 0 1 773.8 614.3" fill="none" stroke="#cfc56f" stroke-width="0.9"/>
<circle cx="890.6" cy="621.3" r="7.9" fill="#050607"/>
<circle cx="890.9" cy="621.0" r="7.0" fill="#1f3a33"/>
<circle cx="891.4" cy="620.7" r="6.1" fill="#5a6e52"/>
<circle cx="891.6" cy="620.5" r="5.3" fill="#e3ebe2"/>
<circle cx="891.6" cy="620.3" r="4.5" fill="#fbfdfb"/>
<path d="M887.5 615.2A7.0 7.0 0 0 1 895.2 615.2" fill="none" stroke="#cfc56f" stroke-width="0.9"/>
<circle cx="913.4" cy="621.3" r="7.9" fill="#050607"/>
<circle cx="913.7" cy="621.0" r="7.0" fill="#1f3a33"/>
<circle cx="914.2" cy="620.7" r="6.1" fill="#5a6e52"/>
<circle cx="914.4" cy="620.5" r="5.3" fill="#e3ebe2"/>
<circle cx="914.4" cy="620.3" r="4.5" fill="#fbfdfb"/>
<path d="M910.4 615.2A7.0 7.0 0 0 1 918.1 615.2" fill="none" stroke="#cfc56f" stroke-width="0.9"/>
<path d="M899 614H907" fill="none" stroke="#cfcfcc" stroke-width="0.6"/>
<rect x="673.8" y="611.4" width="10.0" height="6.4" rx="0.6" fill="#cfcfcc"/>
<rect x="675.2" y="612.4" width="7.2" height="4.4" fill="#b3b1ad"/>
<rect x="673.8" y="620.2" width="10.0" height="6.6" rx="0.5" fill="#d5d5d2"/>
<rect x="675.6" y="621.0" width="6.4" height="5.0" fill="#2b2624"/>
<rect x="677.8" y="622.6" width="2.0" height="1.8" fill="#9c3a2e"/>
<rect x="673.8" y="628.6" width="10.6" height="5.0" rx="0.6" fill="#3a3b3e"/>
<rect x="673.2" y="629.4" width="1.0" height="3.4" fill="#cfcfcc"/>
<rect x="684.0" y="629.4" width="1.0" height="3.4" fill="#cfcfcc"/>
<rect x="674.8" y="641.2" width="6.0" height="5.2" fill="#5a5b5e"/>
<rect x="674.8" y="641.2" width="1.4" height="5.2" fill="#cfcfcc"/>
<rect x="679.4" y="641.2" width="1.4" height="5.2" fill="#cfcfcc"/>
<rect x="688.4" y="635.4" width="3.6" height="4.8" fill="#e9e9e6"/>
<rect x="692.6" y="635.8" width="4.4" height="4.0" fill="#2a2b2e"/>
<rect x="697.6" y="635.4" width="3.8" height="4.8" fill="#8f8f8d"/>
<rect x="688.4" y="641.8" width="3.6" height="4.8" fill="#e9e9e6"/>
<rect x="692.6" y="642.2" width="4.4" height="4.0" fill="#2a2b2e"/>
<rect x="697.6" y="641.8" width="3.8" height="4.8" fill="#8f8f8d"/>
<rect x="711.6" y="609.2" width="14.4" height="7.8" rx="0.4" fill="none" stroke="#8e8f92" stroke-width="0.5"/>
<rect x="713.4" y="610.8" width="10.6" height="4.6" rx="0.5" fill="#d58a1e"/>
<rect x="716.6" y="612.0" width="4.2" height="2.4" fill="#2a1c0a"/>
<circle cx="726.4" cy="613.4" r="0.6" fill="#d2a24a"/>
<circle cx="713.2" cy="613.2" r="0.5" fill="#d2a24a"/>
<rect x="715.6" y="618.6" width="5.2" height="5.6" fill="#7d8797"/>
<rect x="716.4" y="619.2" width="3.6" height="2.2" fill="#c9cfdb"/>
<rect x="716.4" y="621.8" width="3.6" height="1.8" fill="#a08f6c"/>
<rect x="722.4" y="621.6" width="1.4" height="3.8" fill="#a9a9a7"/>
<rect x="724.6" y="621.6" width="1.4" height="3.8" fill="#a9a9a7"/>
<rect x="726.8" y="621.6" width="1.4" height="3.8" fill="#a9a9a7"/>
<rect x="729.0" y="621.6" width="1.4" height="3.8" fill="#a9a9a7"/>
<rect x="732.6" y="622.0" width="4.0" height="5.0" rx="0.8" fill="#77787a"/>
<rect x="733.6" y="623.0" width="2.0" height="3.0" fill="#2a2b2e"/>
<rect x="716.0" y="626.4" width="5.0" height="1.6" fill="#e9e9e6"/>
<rect x="716.0" y="628.8" width="5.0" height="2.4" fill="#b9b9b7"/>
<rect x="739.0" y="638.4" width="3.8" height="6.6" rx="0.3" fill="#e8e8e6"/>
<rect x="742.6" y="637.6" width="6.6" height="8.2" rx="0.4" fill="#1f2023"/>
<rect x="749.2" y="638.0" width="3.4" height="1.3" fill="#c9c9c7"/>
<rect x="749.2" y="641.2" width="3.4" height="1.3" fill="#c9c9c7"/>
<rect x="749.2" y="644.6" width="3.4" height="1.3" fill="#c9c9c7"/>
<rect x="756.6" y="636.4" width="2.6" height="3.2" fill="#bdbdbb"/>
<rect x="756.6" y="641.6" width="2.6" height="5.8" fill="#a9a9a7"/>
<rect x="761.9" y="632.0" width="2.0" height="4.4" fill="#b9b9b7"/>
<circle cx="762.9" cy="638.4" r="1.3" fill="#e3e3e1"/>
<circle cx="762.9" cy="638.4" r="0.6" fill="#111214"/>
<rect x="766.5" y="632.0" width="2.0" height="4.4" fill="#b9b9b7"/>
<circle cx="767.5" cy="638.4" r="1.3" fill="#e3e3e1"/>
<circle cx="767.5" cy="638.4" r="0.6" fill="#111214"/>
<rect x="770.8" y="632.0" width="2.0" height="4.4" fill="#b9b9b7"/>
<circle cx="771.8" cy="638.4" r="1.3" fill="#e3e3e1"/>
<circle cx="771.8" cy="638.4" r="0.6" fill="#111214"/>
<rect x="783.6" y="615.0" width="19.2" height="35.2" rx="1.0" fill="#1b1c20" stroke="#3c3e43" stroke-width="0.6"/>
<rect x="785.2" y="616.8" width="16.0" height="31.6" rx="1.4" fill="#33353a"/>
<rect x="786.4" y="621.6" width="13.6" height="24.6" rx="0.8" fill="#484b51"/>
<rect x="786.4" y="621.6" width="2.2" height="24.6" fill="#5d6168"/>
<rect x="797.8" y="621.6" width="2.2" height="24.6" fill="#3a3c41"/>
<rect x="786.4" y="629.0" width="13.6" height="1.0" fill="#5a5e65"/>
<rect x="786.4" y="637.0" width="13.6" height="1.0" fill="#5a5e65"/>
<rect x="788.2" y="618.2" width="7.0" height="2.0" fill="#5b5f66"/>
<rect x="787.0" y="610.4" width="1.4" height="4.0" fill="#b8b8b4"/>
<rect x="797.0" y="610.4" width="1.4" height="4.0" fill="#b8b8b4"/>
<rect x="788.2" y="610.0" width="9.0" height="4.2" rx="0.8" fill="#d9b63c"/>
<rect x="788.2" y="610.0" width="9.0" height="1.3" rx="0.6" fill="#ecd36a"/>
<rect x="784.2" y="653.6" width="3.6" height="5.6" fill="#c4c4c1"/>
<rect x="785.0" y="655.0" width="2.0" height="2.6" fill="#222326"/>
<rect x="788.9" y="653.6" width="3.6" height="5.6" fill="#c4c4c1"/>
<rect x="789.7" y="655.0" width="2.0" height="2.6" fill="#222326"/>
<rect x="793.6" y="653.6" width="3.6" height="5.6" fill="#c4c4c1"/>
<rect x="794.4" y="655.0" width="2.0" height="2.6" fill="#222326"/>
<rect x="798.3" y="653.6" width="3.6" height="5.6" fill="#c4c4c1"/>
<rect x="799.1" y="655.0" width="2.0" height="2.6" fill="#222326"/>
<rect x="784.2" y="651.2" width="6.0" height="1.1" fill="#8c8c8a"/>
<rect x="795.6" y="651.2" width="6.0" height="1.1" fill="#8c8c8a"/>
<rect x="804.8" y="615.0" width="19.2" height="35.2" rx="1.0" fill="#1b1c20" stroke="#3c3e43" stroke-width="0.6"/>
<rect x="806.4" y="616.8" width="16.0" height="31.6" rx="1.4" fill="#33353a"/>
<rect x="807.6" y="621.6" width="13.6" height="24.6" rx="0.8" fill="#484b51"/>
<rect x="807.6" y="621.6" width="2.2" height="24.6" fill="#5d6168"/>
<rect x="819.0" y="621.6" width="2.2" height="24.6" fill="#3a3c41"/>
<rect x="807.6" y="629.0" width="13.6" height="1.0" fill="#5a5e65"/>
<rect x="807.6" y="637.0" width="13.6" height="1.0" fill="#5a5e65"/>
<rect x="809.4" y="618.2" width="7.0" height="2.0" fill="#5b5f66"/>
<rect x="808.2" y="610.4" width="1.4" height="4.0" fill="#b8b8b4"/>
<rect x="818.2" y="610.4" width="1.4" height="4.0" fill="#b8b8b4"/>
<rect x="809.4" y="610.0" width="9.0" height="4.2" rx="0.8" fill="#d9b63c"/>
<rect x="809.4" y="610.0" width="9.0" height="1.3" rx="0.6" fill="#ecd36a"/>
<rect x="805.4" y="653.6" width="3.6" height="5.6" fill="#c4c4c1"/>
<rect x="806.2" y="655.0" width="2.0" height="2.6" fill="#222326"/>
<rect x="810.1" y="653.6" width="3.6" height="5.6" fill="#c4c4c1"/>
<rect x="810.9" y="655.0" width="2.0" height="2.6" fill="#222326"/>
<rect x="814.8" y="653.6" width="3.6" height="5.6" fill="#c4c4c1"/>
<rect x="815.6" y="655.0" width="2.0" height="2.6" fill="#222326"/>
<rect x="819.5" y="653.6" width="3.6" height="5.6" fill="#c4c4c1"/>
<rect x="820.3" y="655.0" width="2.0" height="2.6" fill="#222326"/>
<rect x="805.4" y="651.2" width="6.0" height="1.1" fill="#8c8c8a"/>
<rect x="816.8" y="651.2" width="6.0" height="1.1" fill="#8c8c8a"/>
<rect x="826.4" y="615.0" width="19.2" height="35.2" rx="1.0" fill="#1b1c20" stroke="#3c3e43" stroke-width="0.6"/>
<rect x="828.0" y="616.8" width="16.0" height="31.6" rx="1.4" fill="#33353a"/>
<rect x="829.2" y="621.6" width="13.6" height="24.6" rx="0.8" fill="#484b51"/>
<rect x="829.2" y="621.6" width="2.2" height="24.6" fill="#5d6168"/>
<rect x="840.6" y="621.6" width="2.2" height="24.6" fill="#3a3c41"/>
<rect x="829.2" y="629.0" width="13.6" height="1.0" fill="#5a5e65"/>
<rect x="829.2" y="637.0" width="13.6" height="1.0" fill="#5a5e65"/>
<rect x="831.0" y="618.2" width="7.0" height="2.0" fill="#5b5f66"/>
<rect x="829.8" y="610.4" width="1.4" height="4.0" fill="#b8b8b4"/>
<rect x="839.8" y="610.4" width="1.4" height="4.0" fill="#b8b8b4"/>
<rect x="831.0" y="610.0" width="9.0" height="4.2" rx="0.8" fill="#d9b63c"/>
<rect x="831.0" y="610.0" width="9.0" height="1.3" rx="0.6" fill="#ecd36a"/>
<rect x="827.0" y="653.6" width="3.6" height="5.6" fill="#c4c4c1"/>
<rect x="827.8" y="655.0" width="2.0" height="2.6" fill="#222326"/>
<rect x="831.7" y="653.6" width="3.6" height="5.6" fill="#c4c4c1"/>
<rect x="832.5" y="655.0" width="2.0" height="2.6" fill="#222326"/>
<rect x="836.4" y="653.6" width="3.6" height="5.6" fill="#c4c4c1"/>
<rect x="837.2" y="655.0" width="2.0" height="2.6" fill="#222326"/>
<rect x="841.1" y="653.6" width="3.6" height="5.6" fill="#c4c4c1"/>
<rect x="841.9" y="655.0" width="2.0" height="2.6" fill="#222326"/>
<rect x="827.0" y="651.2" width="6.0" height="1.1" fill="#8c8c8a"/>
<rect x="838.4" y="651.2" width="6.0" height="1.1" fill="#8c8c8a"/>
<rect x="847.4" y="615.0" width="19.2" height="35.2" rx="1.0" fill="#1b1c20" stroke="#3c3e43" stroke-width="0.6"/>
<rect x="849.0" y="616.8" width="16.0" height="31.6" rx="1.4" fill="#33353a"/>
<rect x="850.2" y="621.6" width="13.6" height="24.6" rx="0.8" fill="#484b51"/>
<rect x="850.2" y="621.6" width="2.2" height="24.6" fill="#5d6168"/>
<rect x="861.6" y="621.6" width="2.2" height="24.6" fill="#3a3c41"/>
<rect x="850.2" y="629.0" width="13.6" height="1.0" fill="#5a5e65"/>
<rect x="850.2" y="637.0" width="13.6" height="1.0" fill="#5a5e65"/>
<rect x="852.0" y="618.2" width="7.0" height="2.0" fill="#5b5f66"/>
<rect x="850.8" y="610.4" width="1.4" height="4.0" fill="#b8b8b4"/>
<rect x="860.8" y="610.4" width="1.4" height="4.0" fill="#b8b8b4"/>
<rect x="852.0" y="610.0" width="9.0" height="4.2" rx="0.8" fill="#d9b63c"/>
<rect x="852.0" y="610.0" width="9.0" height="1.3" rx="0.6" fill="#ecd36a"/>
<rect x="848.0" y="653.6" width="3.6" height="5.6" fill="#c4c4c1"/>
<rect x="848.8" y="655.0" width="2.0" height="2.6" fill="#222326"/>
<rect x="852.7" y="653.6" width="3.6" height="5.6" fill="#c4c4c1"/>
<rect x="853.5" y="655.0" width="2.0" height="2.6" fill="#222326"/>
<rect x="857.4" y="653.6" width="3.6" height="5.6" fill="#c4c4c1"/>
<rect x="858.2" y="655.0" width="2.0" height="2.6" fill="#222326"/>
<rect x="862.1" y="653.6" width="3.6" height="5.6" fill="#c4c4c1"/>
<rect x="862.9" y="655.0" width="2.0" height="2.6" fill="#222326"/>
<rect x="848.0" y="651.2" width="6.0" height="1.1" fill="#8c8c8a"/>
<rect x="859.4" y="651.2" width="6.0" height="1.1" fill="#8c8c8a"/>
<rect x="780.4" y="611.6" width="2.0" height="1.4" fill="#cfcfcc"/>
<rect x="894.2" y="640.0" width="3.0" height="3.4" fill="#a5a5a3"/>
<rect x="898.4" y="640.0" width="5.4" height="3.4" fill="#a5a5a3"/>
<rect x="905.0" y="640.0" width="3.6" height="3.4" fill="#a5a5a3"/>
<rect x="909.6" y="640.0" width="5.0" height="3.4" fill="#a5a5a3"/>
<rect x="915.6" y="640.0" width="3.0" height="3.4" fill="#a5a5a3"/>
<rect x="892.4" y="641.4" width="1.6" height="0.8" fill="#cfcfcc"/>
<rect x="897.4" y="646.4" width="11.6" height="5.0" rx="0.6" fill="none" stroke="#b9b9b7" stroke-width="0.7"/>
<rect x="899.6" y="647.2" width="7.2" height="3.4" fill="#1a1b1e"/>
<circle cx="904.6" cy="671.0" r="17.6" fill="#06070a"/>
<circle cx="904.1" cy="670.2" r="17.3" fill="#23265c"/>
<circle cx="904.1" cy="670.2" r="16.2" fill="#2e3278"/>
<circle cx="904.1" cy="670.2" r="14.4" fill="#1d2050"/>
<circle cx="904.1" cy="670.2" r="12.4" fill="#cdc8c0"/>
<circle cx="904.1" cy="670.2" r="11.6" fill="#e7e3dc"/>
<circle cx="904.3" cy="670.6" r="7.2" fill="#b9ab9c"/>
<circle cx="904.1" cy="670.2" r="6.5" fill="#dccfc2"/>
<path d="M892.4 660.8A15 15 0 0 1 914.5 659.6" fill="none" stroke="#5b63b5" stroke-width="1.4"/>
<rect x="900.6" y="684.0" width="7.0" height="2.2" rx="0.6" fill="#6f78c9"/>
<rect x="887.2" y="701.6" width="5.4" height="3.0" fill="#cdb56e"/>
<rect x="915.0" y="701.6" width="5.0" height="3.0" fill="#cdb56e"/>
<rect x="890.6" y="691.0" width="4.4" height="24.0" rx="0.6" fill="#a8915a"/>
<rect x="891.6" y="692.4" width="2.2" height="21.2" fill="#6f5f3a"/>
<circle cx="904.9" cy="703.4" r="10.9" fill="#9b875a"/>
<circle cx="904.9" cy="703.4" r="10.0" fill="#8f8f8c"/>
<circle cx="904.6" cy="703.0" r="9.0" fill="#b1b1ae"/>
<path d="M897 699A9 9 0 0 1 911 696.6" fill="none" stroke="#c9c9c6" stroke-width="1.2"/>
<path d="M891 691H899M891 715H899" fill="none" stroke="#a8915a" stroke-width="1.2"/>
<rect x="885.2" y="719.6" width="36.0" height="13.4" rx="0.4" fill="#0a0a0c" stroke="#85868a" stroke-width="0.6"/>
<rect x="886.6" y="721.0" width="33.2" height="10.6" fill="#121316"/>
<circle cx="895.6" cy="724.8" r="0.6" fill="#8f8f8d"/>
<circle cx="895.6" cy="729.4" r="0.6" fill="#8f8f8d"/>
<circle cx="900.0" cy="724.8" r="0.6" fill="#8f8f8d"/>
<circle cx="900.0" cy="729.4" r="0.6" fill="#8f8f8d"/>
<circle cx="904.4" cy="724.8" r="0.6" fill="#8f8f8d"/>
<circle cx="904.4" cy="729.4" r="0.6" fill="#8f8f8d"/>
<circle cx="908.8" cy="724.8" r="0.6" fill="#8f8f8d"/>
<circle cx="908.8" cy="729.4" r="0.6" fill="#8f8f8d"/>
<circle cx="913.2" cy="724.8" r="0.6" fill="#8f8f8d"/>
<circle cx="913.2" cy="729.4" r="0.6" fill="#8f8f8d"/>
<rect x="918.0" y="724.2" width="0.9" height="5.4" fill="#d9d9d7"/>
<path d="M908.6 717.2H912.4L910.5 719.2Z" fill="#cfcfcc"/>
<path d="M897 718.8H886" fill="none" stroke="#b9b9b7" stroke-width="0.6"/>
<rect x="885.4" y="734.6" width="13.0" height="9.6" fill="none" stroke="#e9e9e6" stroke-width="0.7"/>
<rect x="887.0" y="736.0" width="9.8" height="2.6" fill="#b9b9b7"/>
<rect x="887.0" y="740.2" width="9.8" height="2.8" fill="#cfcfcd"/>
<rect x="899.8" y="735.6" width="7.2" height="6.8" rx="0.4" fill="#4a463c"/>
<rect x="900.6" y="739.6" width="6.0" height="2.2" fill="#cbbf96"/>
<rect x="905.4" y="735.2" width="1.6" height="3.6" fill="#b9b9b7"/>
<rect x="877.4" y="690.6" width="3.8" height="9.8" rx="0.8" fill="#1d1e21" stroke="#8f8f8d" stroke-width="0.5"/>
<rect x="878.0" y="703.6" width="2.8" height="4.8" fill="#77787a"/>
<rect x="878.8" y="702.4" width="1.2" height="1.2" fill="#cfcfcc"/>
<rect x="876.2" y="710.6" width="7.4" height="2.2" fill="#e9e9e6"/>
<rect x="876.2" y="713.6" width="7.4" height="2.2" fill="#c4c4c1"/>
<rect x="876.8" y="721.4" width="2.2" height="1.8" fill="#cfcfcc"/>
<rect x="879.6" y="721.4" width="2.4" height="1.8" fill="#cfcfcc"/>
<rect x="876.8" y="726.4" width="2.2" height="4.6" fill="#e9e9e6"/>
<rect x="879.8" y="726.4" width="2.2" height="4.6" fill="#e9e9e6"/>
<rect x="803.0" y="671.0" width="28.4" height="30.4" rx="0.6" fill="#8a8c90"/>
<rect x="804.4" y="670.6" width="1.0" height="31.2" fill="#2a2b2e"/>
<rect x="806.6" y="670.6" width="1.0" height="31.2" fill="#2a2b2e"/>
<rect x="808.8" y="670.6" width="1.0" height="31.2" fill="#2a2b2e"/>
<rect x="810.9" y="670.6" width="1.0" height="31.2" fill="#2a2b2e"/>
<rect x="813.1" y="670.6" width="1.0" height="31.2" fill="#2a2b2e"/>
<rect x="815.3" y="670.6" width="1.0" height="31.2" fill="#2a2b2e"/>
<rect x="817.5" y="670.6" width="1.0" height="31.2" fill="#2a2b2e"/>
<rect x="819.7" y="670.6" width="1.0" height="31.2" fill="#2a2b2e"/>
<rect x="821.8" y="670.6" width="1.0" height="31.2" fill="#2a2b2e"/>
<rect x="824.0" y="670.6" width="1.0" height="31.2" fill="#2a2b2e"/>
<rect x="826.2" y="670.6" width="1.0" height="31.2" fill="#2a2b2e"/>
<rect x="828.4" y="670.6" width="1.0" height="31.2" fill="#2a2b2e"/>
<rect x="802.6" y="672.6" width="29.2" height="1.0" fill="#2a2b2e"/>
<rect x="802.6" y="674.8" width="29.2" height="1.0" fill="#2a2b2e"/>
<rect x="802.6" y="677.0" width="29.2" height="1.0" fill="#2a2b2e"/>
<rect x="802.6" y="679.1" width="29.2" height="1.0" fill="#2a2b2e"/>
<rect x="802.6" y="681.3" width="29.2" height="1.0" fill="#2a2b2e"/>
<rect x="802.6" y="683.5" width="29.2" height="1.0" fill="#2a2b2e"/>
<rect x="802.6" y="685.7" width="29.2" height="1.0" fill="#2a2b2e"/>
<rect x="802.6" y="687.9" width="29.2" height="1.0" fill="#2a2b2e"/>
<rect x="802.6" y="690.0" width="29.2" height="1.0" fill="#2a2b2e"/>
<rect x="802.6" y="692.2" width="29.2" height="1.0" fill="#2a2b2e"/>
<rect x="802.6" y="694.4" width="29.2" height="1.0" fill="#2a2b2e"/>
<rect x="802.6" y="696.6" width="29.2" height="1.0" fill="#2a2b2e"/>
<rect x="802.6" y="698.8" width="29.2" height="1.0" fill="#2a2b2e"/>
<rect x="805.0" y="673.0" width="24.6" height="26.6" rx="0.8" fill="#4a4c50"/>
<rect x="806.2" y="674.2" width="22.2" height="24.2" rx="0.6" fill="#54565a"/>
<circle cx="808.6" cy="676.6" r="0.8" fill="#2e3033"/>
<text x="804.2" y="669.4" font-size="4" fill="#e6e6e6" font-weight="bold">X</text>
<text x="828.2" y="669.4" font-size="4" fill="#e6e6e6" font-weight="bold">X</text>
<rect x="788.6" y="687.6" width="2.2" height="2.2" fill="#cfcfcc"/>
<rect x="791.4" y="687.6" width="2.4" height="2.2" fill="#cfcfcc"/>
<rect x="808.6" y="705.0" width="3.6" height="5.8" fill="#c9c9c6"/>
<rect x="809.4" y="706.4" width="2.0" height="3.0" fill="#3a3b3e"/>
<rect x="812.9" y="705.0" width="3.6" height="5.8" fill="#c9c9c6"/>
<rect x="813.7" y="706.4" width="2.0" height="3.0" fill="#3a3b3e"/>
<rect x="817.2" y="705.0" width="3.6" height="5.8" fill="#c9c9c6"/>
<rect x="818.0" y="706.4" width="2.0" height="3.0" fill="#3a3b3e"/>
<rect x="821.5" y="705.0" width="3.6" height="5.8" fill="#c9c9c6"/>
<rect x="822.3" y="706.4" width="2.0" height="3.0" fill="#3a3b3e"/>
<rect x="827.4" y="705.0" width="2.6" height="5.8" fill="#c9c9c6"/>
<rect x="830.6" y="705.0" width="2.6" height="5.8" fill="#bdbdba"/>
<rect x="838.0" y="665.0" width="17.3" height="51.2" rx="0.4" fill="#f6f6f5"/>
<rect x="838.0" y="665.0" width="17.3" height="51.2" rx="0.4" fill="none" stroke="#d9d9d7" stroke-width="0.4"/>
<text transform="translate(851.6 706.8) rotate(-90)" font-size="8" fill="#5a5a5a" textLength="33.8" lengthAdjust="spacing">ID: 22785</text>
<rect x="857.6" y="680.6" width="2.4" height="3.0" fill="#cfcfcc"/>
<rect x="860.6" y="680.6" width="2.4" height="3.0" fill="#cfcfcc"/>
<rect x="857.6" y="684.4" width="2.4" height="3.0" fill="#cfcfcc"/>
<rect x="860.6" y="684.4" width="2.4" height="3.0" fill="#cfcfcc"/>
<rect x="857.4" y="691.4" width="5.6" height="5.4" rx="0.4" fill="#d4d4d2"/>
<rect x="858.8" y="692.8" width="2.8" height="2.6" fill="#3a3b3e"/>
<text x="864.4" y="696.4" font-size="2.6" fill="#d9d9d7" font-weight="bold">RUN</text>
<rect x="666.0" y="654.2" width="8.0" height="10.4" rx="0.4" fill="#dededb"/>
<rect x="667.2" y="655.4" width="5.6" height="8.0" fill="#efefed"/>
<rect x="666.0" y="666.2" width="8.0" height="10.0" rx="0.4" fill="#dededb"/>
<rect x="667.2" y="667.4" width="5.6" height="7.6" fill="#efefed"/>
<rect x="675.2" y="653.4" width="5.6" height="10.8" rx="0.5" fill="#d58a1e"/>
<rect x="676.8" y="656.6" width="2.4" height="4.4" fill="#2a1c0a"/>
<rect x="675.2" y="653.4" width="5.6" height="1.6" fill="#e3a94a"/>
<circle cx="676.2" cy="665.4" r="0.6" fill="#d2a24a"/>
<rect x="677.2" y="666.6" width="4.0" height="5.2" fill="#6f7d92"/>
<rect x="678.0" y="667.4" width="2.4" height="1.8" fill="#c3cad6"/>
<rect x="677.4" y="673.6" width="3.6" height="2.6" fill="#b9b9b7"/>
<rect x="682.4" y="656.6" width="1.4" height="8.0" fill="#8fa0b8"/>
<rect x="686.0" y="654.2" width="7.2" height="2.6" rx="0.3" fill="#e3e3e1"/>
<rect x="686.0" y="657.4" width="7.2" height="4.0" rx="0.3" fill="#8a5a3a"/>
<rect x="686.0" y="662.0" width="7.2" height="3.0" rx="0.3" fill="#e3e3e1"/>
<rect x="686.0" y="666.6" width="7.2" height="2.6" rx="0.3" fill="#e3e3e1"/>
<rect x="686.0" y="669.4" width="7.2" height="3.6" rx="0.3" fill="#7d5e44"/>
<rect x="686.0" y="673.2" width="7.2" height="2.8" rx="0.3" fill="#e3e3e1"/>
<rect x="688.2" y="658.2" width="2.6" height="2.2" fill="#e6d9c8"/>
<rect x="695.2" y="653.2" width="6.8" height="11.4" rx="3.0" fill="#2a2b2f" stroke="#55575b" stroke-width="0.5"/>
<rect x="696.6" y="662.8" width="4.0" height="0.9" fill="#7c7d7f"/>
<rect x="695.2" y="666.2" width="6.8" height="11.4" rx="3.0" fill="#2a2b2f" stroke="#55575b" stroke-width="0.5"/>
<rect x="696.6" y="675.8" width="4.0" height="0.9" fill="#7c7d7f"/>
<rect x="704.8" y="653.8" width="3.2" height="6.0" fill="#b9b9b7"/>
<rect x="705.4" y="655.6" width="2.0" height="2.2" fill="#2a2b2e"/>
<rect x="704.8" y="670.8" width="3.2" height="5.6" fill="#b9b9b7"/>
<rect x="705.4" y="672.6" width="2.0" height="2.0" fill="#2a2b2e"/>
<rect x="710.0" y="670.8" width="6.2" height="5.6" fill="#a9a9a7"/>
<rect x="711.4" y="672.2" width="3.4" height="2.8" fill="#3a3b3e"/>
<rect x="713.6" y="659.8" width="5.8" height="10.2" rx="0.5" fill="#33353a"/>
<rect x="709.8" y="661.4" width="3.6" height="1.1" fill="#d4d4d2"/>
<rect x="719.6" y="661.4" width="3.4" height="1.1" fill="#d4d4d2"/>
<rect x="709.8" y="663.7" width="3.6" height="1.1" fill="#d4d4d2"/>
<rect x="719.6" y="663.7" width="3.4" height="1.1" fill="#d4d4d2"/>
<rect x="709.8" y="666.0" width="3.6" height="1.1" fill="#d4d4d2"/>
<rect x="719.6" y="666.0" width="3.4" height="1.1" fill="#d4d4d2"/>
<rect x="709.8" y="668.3" width="3.6" height="1.1" fill="#d4d4d2"/>
<rect x="719.6" y="668.3" width="3.4" height="1.1" fill="#d4d4d2"/>
<rect x="723.4" y="654.2" width="7.2" height="5.6" rx="0.3" fill="#d4d4d2"/>
<rect x="725.0" y="655.4" width="4.0" height="3.2" fill="#2a2b2e"/>
<rect x="726.6" y="654.2" width="0.8" height="5.6" fill="#d4d4d2"/>
<rect x="726.0" y="662.6" width="3.0" height="2.2" fill="#c9c9c6"/>
<rect x="726.0" y="665.6" width="3.0" height="2.4" fill="#c9c9c6"/>
<rect x="723.4" y="671.4" width="7.2" height="5.2" rx="0.3" fill="#c9c9c6"/>
<rect x="725.0" y="672.6" width="4.0" height="2.8" fill="#2a2b2e"/>
<rect x="726.6" y="671.4" width="0.8" height="5.2" fill="#c9c9c6"/>
<rect x="755.6" y="664.0" width="3.0" height="5.8" fill="#a9a9a7"/>
<rect x="759.4" y="664.0" width="3.0" height="5.8" fill="#a9a9a7"/>
<rect x="668.2" y="683.4" width="20.4" height="11.4" rx="0.6" fill="#1c1d21" stroke="#45474b" stroke-width="0.5"/>
<rect x="670.0" y="685.2" width="11.0" height="1.6" fill="#34363a"/>
<text x="670.2" y="692.6" font-size="4.4" fill="#c9c9c9" font-style="italic" font-weight="bold">Pulse</text>
<rect x="669.2" y="679.8" width="1.3" height="3.6" fill="#d9d9d7"/>
<rect x="669.2" y="696.6" width="1.3" height="3.6" fill="#d9d9d7"/>
<rect x="671.7" y="679.8" width="1.3" height="3.6" fill="#d9d9d7"/>
<rect x="671.7" y="696.6" width="1.3" height="3.6" fill="#d9d9d7"/>
<rect x="674.1" y="679.8" width="1.3" height="3.6" fill="#d9d9d7"/>
<rect x="674.1" y="696.6" width="1.3" height="3.6" fill="#d9d9d7"/>
<rect x="676.6" y="679.8" width="1.3" height="3.6" fill="#d9d9d7"/>
<rect x="676.6" y="696.6" width="1.3" height="3.6" fill="#d9d9d7"/>
<rect x="679.0" y="679.8" width="1.3" height="3.6" fill="#d9d9d7"/>
<rect x="679.0" y="696.6" width="1.3" height="3.6" fill="#d9d9d7"/>
<rect x="681.5" y="679.8" width="1.3" height="3.6" fill="#d9d9d7"/>
<rect x="681.5" y="696.6" width="1.3" height="3.6" fill="#d9d9d7"/>
<rect x="683.9" y="679.8" width="1.3" height="3.6" fill="#d9d9d7"/>
<rect x="683.9" y="696.6" width="1.3" height="3.6" fill="#d9d9d7"/>
<rect x="686.4" y="679.8" width="1.3" height="3.6" fill="#d9d9d7"/>
<rect x="686.4" y="696.6" width="1.3" height="3.6" fill="#d9d9d7"/>
<rect x="662.0" y="700.6" width="6.2" height="7.8" rx="0.6" fill="#2c2d31"/>
<rect x="662.6" y="699.4" width="4.8" height="1.0" fill="#77787a"/>
<rect x="662.6" y="708.8" width="4.8" height="1.0" fill="#77787a"/>
<rect x="668.8" y="701.6" width="2.4" height="5.6" fill="#b89a6a"/>
<rect x="669.6" y="701.8" width="16.0" height="2.4" fill="#8f8f8d"/>
<rect x="671.8" y="702.4" width="11.0" height="1.2" fill="#2a2b2e"/>
<rect x="670.0" y="705.2" width="15.4" height="4.4" rx="0.3" fill="#bdbdba"/>
<rect x="671.8" y="706.2" width="2.0" height="2.4" fill="#2a2b2e"/>
<rect x="675.2" y="706.2" width="2.0" height="2.4" fill="#2a2b2e"/>
<rect x="678.6" y="706.2" width="2.0" height="2.4" fill="#2a2b2e"/>
<rect x="682.0" y="706.2" width="2.0" height="2.4" fill="#2a2b2e"/>
<rect x="690.0" y="680.2" width="13.6" height="5.8" rx="0.3" fill="#bdbdba"/>
<rect x="691.0" y="681.4" width="1.5" height="3.4" fill="#3a3b3e"/>
<rect x="693.5" y="681.4" width="1.5" height="3.4" fill="#3a3b3e"/>
<rect x="696.1" y="681.4" width="1.5" height="3.4" fill="#3a3b3e"/>
<rect x="698.6" y="681.4" width="1.5" height="3.4" fill="#3a3b3e"/>
<rect x="701.2" y="681.4" width="1.5" height="3.4" fill="#3a3b3e"/>
<rect x="711.4" y="680.4" width="3.2" height="5.6" fill="#a9a9a7"/>
<rect x="712.0" y="682.0" width="2.0" height="2.2" fill="#2a2b2e"/>
<rect x="690.2" y="691.2" width="10.6" height="3.4" rx="0.3" fill="#b9b9b7"/>
<rect x="690.2" y="695.4" width="10.6" height="3.0" rx="0.3" fill="#b9b9b7"/>
<rect x="690.2" y="699.2" width="7.6" height="4.8" rx="0.3" fill="#b9b9b7"/>
<rect x="691.4" y="692.0" width="1.8" height="1.8" fill="#2a2b2e"/>
<rect x="691.4" y="696.0" width="1.8" height="1.6" fill="#2a2b2e"/>
<rect x="694.6" y="692.0" width="1.8" height="1.8" fill="#2a2b2e"/>
<rect x="694.6" y="696.0" width="1.8" height="1.6" fill="#2a2b2e"/>
<rect x="697.8" y="692.0" width="1.8" height="1.8" fill="#2a2b2e"/>
<rect x="697.8" y="696.0" width="1.8" height="1.6" fill="#2a2b2e"/>
<rect x="692.0" y="700.4" width="4.0" height="2.4" fill="#2a2b2e"/>
<rect x="703.6" y="689.8" width="11.4" height="10.6" rx="0.6" fill="#45474b"/>
<rect x="704.6" y="690.8" width="9.4" height="8.6" rx="0.4" fill="#393b3f"/>
<rect x="704.8" y="688.8" width="0.9" height="1.0" fill="#77787a"/>
<rect x="704.8" y="700.4" width="0.9" height="1.0" fill="#77787a"/>
<rect x="706.8" y="688.8" width="0.9" height="1.0" fill="#77787a"/>
<rect x="706.8" y="700.4" width="0.9" height="1.0" fill="#77787a"/>
<rect x="708.8" y="688.8" width="0.9" height="1.0" fill="#77787a"/>
<rect x="708.8" y="700.4" width="0.9" height="1.0" fill="#77787a"/>
<rect x="710.8" y="688.8" width="0.9" height="1.0" fill="#77787a"/>
<rect x="710.8" y="700.4" width="0.9" height="1.0" fill="#77787a"/>
<rect x="712.8" y="688.8" width="0.9" height="1.0" fill="#77787a"/>
<rect x="712.8" y="700.4" width="0.9" height="1.0" fill="#77787a"/>
<rect x="720.4" y="678.0" width="2.4" height="2.4" fill="#8f8f8d"/>
<rect x="723.7" y="678.0" width="2.4" height="2.4" fill="#bdbdba"/>
<rect x="727.0" y="678.0" width="2.4" height="2.4" fill="#bdbdba"/>
<rect x="730.3" y="678.0" width="2.4" height="2.4" fill="#8f8f8d"/>
<rect x="720.4" y="681.3" width="2.4" height="2.4" fill="#bdbdba"/>
<rect x="723.7" y="681.3" width="2.4" height="2.4" fill="#bdbdba"/>
<rect x="727.0" y="681.3" width="2.4" height="2.4" fill="#8f8f8d"/>
<rect x="730.3" y="681.3" width="2.4" height="2.4" fill="#bdbdba"/>
<rect x="720.4" y="684.6" width="2.4" height="2.4" fill="#bdbdba"/>
<rect x="723.7" y="684.6" width="2.4" height="2.4" fill="#8f8f8d"/>
<rect x="727.0" y="684.6" width="2.4" height="2.4" fill="#bdbdba"/>
<rect x="730.3" y="684.6" width="2.4" height="2.4" fill="#bdbdba"/>
<rect x="720.4" y="687.9" width="2.4" height="2.4" fill="#8f8f8d"/>
<rect x="723.7" y="687.9" width="2.4" height="2.4" fill="#bdbdba"/>
<rect x="727.0" y="687.9" width="2.4" height="2.4" fill="#bdbdba"/>
<rect x="730.3" y="687.9" width="2.4" height="2.4" fill="#8f8f8d"/>
<rect x="722.0" y="691.4" width="2.2" height="1.4" fill="#9a9a98"/>
<rect x="690.6" y="705.4" width="22.0" height="4.6" rx="0.3" fill="#b9b9b7"/>
<rect x="692.0" y="706.4" width="1.7" height="2.6" fill="#2a2b2e"/>
<rect x="694.9" y="706.4" width="1.7" height="2.6" fill="#2a2b2e"/>
<rect x="697.8" y="706.4" width="1.7" height="2.6" fill="#2a2b2e"/>
<rect x="700.7" y="706.4" width="1.7" height="2.6" fill="#2a2b2e"/>
<rect x="703.6" y="706.4" width="1.7" height="2.6" fill="#2a2b2e"/>
<rect x="706.5" y="706.4" width="1.7" height="2.6" fill="#2a2b2e"/>
<rect x="709.4" y="706.4" width="1.7" height="2.6" fill="#2a2b2e"/>
<rect x="690.4" y="705.0" width="1.8" height="5.4" fill="#e9e9e6"/>
<rect x="720.4" y="704.4" width="5.6" height="5.4" rx="0.3" fill="#c9c9c6"/>
<rect x="721.6" y="705.8" width="3.2" height="2.6" fill="#2a2b2e"/>
<text x="718.6" y="713.6" font-size="2.6" fill="#d9d9d7" font-weight="bold">NLINK</text>
<rect x="738.6" y="684.6" width="2.4" height="2.4" fill="#c4c4c1"/>
<rect x="741.6" y="684.6" width="2.4" height="2.4" fill="#adadab"/>
<rect x="738.6" y="687.7" width="2.4" height="2.4" fill="#c4c4c1"/>
<rect x="741.6" y="687.7" width="2.4" height="2.4" fill="#adadab"/>
<rect x="738.6" y="690.8" width="2.4" height="2.4" fill="#c4c4c1"/>
<rect x="741.6" y="690.8" width="2.4" height="2.4" fill="#adadab"/>
<rect x="738.6" y="693.9" width="2.4" height="2.4" fill="#c4c4c1"/>
<rect x="741.6" y="693.9" width="2.4" height="2.4" fill="#adadab"/>
<rect x="738.6" y="697.0" width="2.4" height="2.4" fill="#c4c4c1"/>
<rect x="741.6" y="697.0" width="2.4" height="2.4" fill="#adadab"/>
<rect x="745.8" y="689.4" width="7.0" height="7.8" rx="0.5" fill="#33353a"/>
<rect x="746.4" y="686.0" width="0.9" height="3.4" fill="#d4d4d2"/>
<rect x="746.4" y="697.2" width="0.9" height="3.0" fill="#d4d4d2"/>
<rect x="748.1" y="686.0" width="0.9" height="3.4" fill="#d4d4d2"/>
<rect x="748.1" y="697.2" width="0.9" height="3.0" fill="#d4d4d2"/>
<rect x="749.8" y="686.0" width="0.9" height="3.4" fill="#d4d4d2"/>
<rect x="749.8" y="697.2" width="0.9" height="3.0" fill="#d4d4d2"/>
<rect x="751.5" y="686.0" width="0.9" height="3.4" fill="#d4d4d2"/>
<rect x="751.5" y="697.2" width="0.9" height="3.0" fill="#d4d4d2"/>
<circle cx="747.6" cy="684.2" r="0.8" fill="#c9c9c6"/>
<rect x="741.8" y="701.8" width="7.6" height="3.2" rx="0.3" fill="#b9b9b7"/>
<rect x="743.2" y="702.6" width="4.8" height="1.6" fill="#2a2b2e"/>
<rect x="768.2" y="691.2" width="9.4" height="7.0" rx="0.5" fill="#33353a"/>
<rect x="769.2" y="687.2" width="1.0" height="4.0" fill="#d4d4d2"/>
<rect x="769.2" y="698.2" width="1.0" height="4.2" fill="#d4d4d2"/>
<rect x="771.3" y="687.2" width="1.0" height="4.0" fill="#d4d4d2"/>
<rect x="771.3" y="698.2" width="1.0" height="4.2" fill="#d4d4d2"/>
<rect x="773.4" y="687.2" width="1.0" height="4.0" fill="#d4d4d2"/>
<rect x="773.4" y="698.2" width="1.0" height="4.2" fill="#d4d4d2"/>
<rect x="775.5" y="687.2" width="1.0" height="4.0" fill="#d4d4d2"/>
<rect x="775.5" y="698.2" width="1.0" height="4.2" fill="#d4d4d2"/>
<rect x="762.4" y="684.6" width="2.6" height="5.0" fill="#a9a9a7"/>
<rect x="772.4" y="679.4" width="3.0" height="4.0" fill="#8f8f8d"/>
<rect x="762.4" y="697.0" width="5.2" height="5.6" rx="0.3" fill="#c4c4c1"/>
<rect x="763.4" y="698.4" width="3.0" height="2.6" fill="#3a3b3e"/>
<rect x="762.6" y="704.4" width="5.6" height="1.4" fill="#8f8f8d"/>
<rect x="788.4" y="688.6" width="2.2" height="2.4" fill="#cfcfcc"/>
<rect x="654.2" y="720.4" width="1.6" height="2.4" fill="#cfcfcc"/>
<rect x="656.2" y="720.4" width="1.8" height="2.4" fill="#cfcfcc"/>
<rect x="654.2" y="728.8" width="1.6" height="2.4" fill="#cfcfcc"/>
<rect x="656.2" y="728.8" width="1.8" height="2.4" fill="#cfcfcc"/>
<rect x="660.6" y="723.8" width="15.6" height="5.0" rx="0.4" fill="#1f2024"/>
<rect x="661.0" y="720.2" width="1.0" height="3.6" fill="#d4d4d2"/>
<rect x="661.0" y="728.8" width="1.0" height="3.2" fill="#9a9a98"/>
<rect x="663.1" y="720.2" width="1.0" height="3.6" fill="#d4d4d2"/>
<rect x="663.1" y="728.8" width="1.0" height="3.2" fill="#9a9a98"/>
<rect x="665.2" y="720.2" width="1.0" height="3.6" fill="#d4d4d2"/>
<rect x="665.2" y="728.8" width="1.0" height="3.2" fill="#9a9a98"/>
<rect x="667.3" y="720.2" width="1.0" height="3.6" fill="#d4d4d2"/>
<rect x="667.3" y="728.8" width="1.0" height="3.2" fill="#9a9a98"/>
<rect x="669.4" y="720.2" width="1.0" height="3.6" fill="#d4d4d2"/>
<rect x="669.4" y="728.8" width="1.0" height="3.2" fill="#9a9a98"/>
<rect x="671.5" y="720.2" width="1.0" height="3.6" fill="#d4d4d2"/>
<rect x="671.5" y="728.8" width="1.0" height="3.2" fill="#9a9a98"/>
<rect x="673.6" y="720.2" width="1.0" height="3.6" fill="#d4d4d2"/>
<rect x="673.6" y="728.8" width="1.0" height="3.2" fill="#9a9a98"/>
<rect x="677.6" y="723.0" width="2.2" height="3.2" fill="#c4c4c1"/>
<rect x="680.5" y="723.0" width="2.2" height="3.2" fill="#c4c4c1"/>
<rect x="677.6" y="727.0" width="2.2" height="3.2" fill="#c4c4c1"/>
<rect x="680.5" y="727.0" width="2.2" height="3.2" fill="#c4c4c1"/>
<rect x="654.4" y="735.8" width="22.4" height="4.6" rx="0.3" fill="#c9c9c6"/>
<rect x="655.6" y="736.8" width="1.5" height="2.6" fill="#55565a"/>
<rect x="658.2" y="736.8" width="1.5" height="2.6" fill="#55565a"/>
<rect x="660.8" y="736.8" width="1.5" height="2.6" fill="#55565a"/>
<rect x="663.4" y="736.8" width="1.5" height="2.6" fill="#55565a"/>
<rect x="666.0" y="736.8" width="1.5" height="2.6" fill="#55565a"/>
<rect x="668.6" y="736.8" width="1.5" height="2.6" fill="#55565a"/>
<rect x="671.2" y="736.8" width="1.5" height="2.6" fill="#55565a"/>
<rect x="673.8" y="736.8" width="1.5" height="2.6" fill="#55565a"/>
<rect x="707.4" y="720.4" width="1.6" height="2.4" fill="#cfcfcc"/>
<rect x="709.4" y="720.4" width="1.8" height="2.4" fill="#cfcfcc"/>
<rect x="707.4" y="728.8" width="1.6" height="2.4" fill="#cfcfcc"/>
<rect x="709.4" y="728.8" width="1.8" height="2.4" fill="#cfcfcc"/>
<rect x="713.8" y="723.8" width="15.6" height="5.0" rx="0.4" fill="#1f2024"/>
<rect x="714.2" y="720.2" width="1.0" height="3.6" fill="#d4d4d2"/>
<rect x="714.2" y="728.8" width="1.0" height="3.2" fill="#9a9a98"/>
<rect x="716.3" y="720.2" width="1.0" height="3.6" fill="#d4d4d2"/>
<rect x="716.3" y="728.8" width="1.0" height="3.2" fill="#9a9a98"/>
<rect x="718.4" y="720.2" width="1.0" height="3.6" fill="#d4d4d2"/>
<rect x="718.4" y="728.8" width="1.0" height="3.2" fill="#9a9a98"/>
<rect x="720.5" y="720.2" width="1.0" height="3.6" fill="#d4d4d2"/>
<rect x="720.5" y="728.8" width="1.0" height="3.2" fill="#9a9a98"/>
<rect x="722.6" y="720.2" width="1.0" height="3.6" fill="#d4d4d2"/>
<rect x="722.6" y="728.8" width="1.0" height="3.2" fill="#9a9a98"/>
<rect x="724.7" y="720.2" width="1.0" height="3.6" fill="#d4d4d2"/>
<rect x="724.7" y="728.8" width="1.0" height="3.2" fill="#9a9a98"/>
<rect x="726.8" y="720.2" width="1.0" height="3.6" fill="#d4d4d2"/>
<rect x="726.8" y="728.8" width="1.0" height="3.2" fill="#9a9a98"/>
<rect x="730.8" y="723.0" width="2.2" height="3.2" fill="#c4c4c1"/>
<rect x="733.7" y="723.0" width="2.2" height="3.2" fill="#c4c4c1"/>
<rect x="730.8" y="727.0" width="2.2" height="3.2" fill="#c4c4c1"/>
<rect x="733.7" y="727.0" width="2.2" height="3.2" fill="#c4c4c1"/>
<rect x="707.6" y="735.8" width="22.4" height="4.6" rx="0.3" fill="#c9c9c6"/>
<rect x="708.8" y="736.8" width="1.5" height="2.6" fill="#55565a"/>
<rect x="711.4" y="736.8" width="1.5" height="2.6" fill="#55565a"/>
<rect x="714.0" y="736.8" width="1.5" height="2.6" fill="#55565a"/>
<rect x="716.6" y="736.8" width="1.5" height="2.6" fill="#55565a"/>
<rect x="719.2" y="736.8" width="1.5" height="2.6" fill="#55565a"/>
<rect x="721.8" y="736.8" width="1.5" height="2.6" fill="#55565a"/>
<rect x="724.4" y="736.8" width="1.5" height="2.6" fill="#55565a"/>
<rect x="727.0" y="736.8" width="1.5" height="2.6" fill="#55565a"/>
<rect x="760.0" y="720.4" width="1.6" height="2.4" fill="#cfcfcc"/>
<rect x="762.0" y="720.4" width="1.8" height="2.4" fill="#cfcfcc"/>
<rect x="760.0" y="728.8" width="1.6" height="2.4" fill="#cfcfcc"/>
<rect x="762.0" y="728.8" width="1.8" height="2.4" fill="#cfcfcc"/>
<rect x="766.4" y="723.8" width="15.6" height="5.0" rx="0.4" fill="#1f2024"/>
<rect x="766.8" y="720.2" width="1.0" height="3.6" fill="#d4d4d2"/>
<rect x="766.8" y="728.8" width="1.0" height="3.2" fill="#9a9a98"/>
<rect x="768.9" y="720.2" width="1.0" height="3.6" fill="#d4d4d2"/>
<rect x="768.9" y="728.8" width="1.0" height="3.2" fill="#9a9a98"/>
<rect x="771.0" y="720.2" width="1.0" height="3.6" fill="#d4d4d2"/>
<rect x="771.0" y="728.8" width="1.0" height="3.2" fill="#9a9a98"/>
<rect x="773.1" y="720.2" width="1.0" height="3.6" fill="#d4d4d2"/>
<rect x="773.1" y="728.8" width="1.0" height="3.2" fill="#9a9a98"/>
<rect x="775.2" y="720.2" width="1.0" height="3.6" fill="#d4d4d2"/>
<rect x="775.2" y="728.8" width="1.0" height="3.2" fill="#9a9a98"/>
<rect x="777.3" y="720.2" width="1.0" height="3.6" fill="#d4d4d2"/>
<rect x="777.3" y="728.8" width="1.0" height="3.2" fill="#9a9a98"/>
<rect x="779.4" y="720.2" width="1.0" height="3.6" fill="#d4d4d2"/>
<rect x="779.4" y="728.8" width="1.0" height="3.2" fill="#9a9a98"/>
<rect x="783.4" y="723.0" width="2.2" height="3.2" fill="#c4c4c1"/>
<rect x="786.3" y="723.0" width="2.2" height="3.2" fill="#c4c4c1"/>
<rect x="783.4" y="727.0" width="2.2" height="3.2" fill="#c4c4c1"/>
<rect x="786.3" y="727.0" width="2.2" height="3.2" fill="#c4c4c1"/>
<rect x="760.2" y="735.8" width="22.4" height="4.6" rx="0.3" fill="#c9c9c6"/>
<rect x="761.4" y="736.8" width="1.5" height="2.6" fill="#55565a"/>
<rect x="764.0" y="736.8" width="1.5" height="2.6" fill="#55565a"/>
<rect x="766.6" y="736.8" width="1.5" height="2.6" fill="#55565a"/>
<rect x="769.2" y="736.8" width="1.5" height="2.6" fill="#55565a"/>
<rect x="771.8" y="736.8" width="1.5" height="2.6" fill="#55565a"/>
<rect x="774.4" y="736.8" width="1.5" height="2.6" fill="#55565a"/>
<rect x="777.0" y="736.8" width="1.5" height="2.6" fill="#55565a"/>
<rect x="779.6" y="736.8" width="1.5" height="2.6" fill="#55565a"/>
<rect x="813.0" y="720.4" width="1.6" height="2.4" fill="#cfcfcc"/>
<rect x="815.0" y="720.4" width="1.8" height="2.4" fill="#cfcfcc"/>
<rect x="813.0" y="728.8" width="1.6" height="2.4" fill="#cfcfcc"/>
<rect x="815.0" y="728.8" width="1.8" height="2.4" fill="#cfcfcc"/>
<rect x="819.4" y="723.8" width="15.6" height="5.0" rx="0.4" fill="#1f2024"/>
<rect x="819.8" y="720.2" width="1.0" height="3.6" fill="#d4d4d2"/>
<rect x="819.8" y="728.8" width="1.0" height="3.2" fill="#9a9a98"/>
<rect x="821.9" y="720.2" width="1.0" height="3.6" fill="#d4d4d2"/>
<rect x="821.9" y="728.8" width="1.0" height="3.2" fill="#9a9a98"/>
<rect x="824.0" y="720.2" width="1.0" height="3.6" fill="#d4d4d2"/>
<rect x="824.0" y="728.8" width="1.0" height="3.2" fill="#9a9a98"/>
<rect x="826.1" y="720.2" width="1.0" height="3.6" fill="#d4d4d2"/>
<rect x="826.1" y="728.8" width="1.0" height="3.2" fill="#9a9a98"/>
<rect x="828.2" y="720.2" width="1.0" height="3.6" fill="#d4d4d2"/>
<rect x="828.2" y="728.8" width="1.0" height="3.2" fill="#9a9a98"/>
<rect x="830.3" y="720.2" width="1.0" height="3.6" fill="#d4d4d2"/>
<rect x="830.3" y="728.8" width="1.0" height="3.2" fill="#9a9a98"/>
<rect x="832.4" y="720.2" width="1.0" height="3.6" fill="#d4d4d2"/>
<rect x="832.4" y="728.8" width="1.0" height="3.2" fill="#9a9a98"/>
<rect x="836.4" y="723.0" width="2.2" height="3.2" fill="#c4c4c1"/>
<rect x="839.3" y="723.0" width="2.2" height="3.2" fill="#c4c4c1"/>
<rect x="836.4" y="727.0" width="2.2" height="3.2" fill="#c4c4c1"/>
<rect x="839.3" y="727.0" width="2.2" height="3.2" fill="#c4c4c1"/>
<rect x="813.2" y="735.8" width="22.4" height="4.6" rx="0.3" fill="#c9c9c6"/>
<rect x="814.4" y="736.8" width="1.5" height="2.6" fill="#55565a"/>
<rect x="817.0" y="736.8" width="1.5" height="2.6" fill="#55565a"/>
<rect x="819.6" y="736.8" width="1.5" height="2.6" fill="#55565a"/>
<rect x="822.2" y="736.8" width="1.5" height="2.6" fill="#55565a"/>
<rect x="824.8" y="736.8" width="1.5" height="2.6" fill="#55565a"/>
<rect x="827.4" y="736.8" width="1.5" height="2.6" fill="#55565a"/>
<rect x="830.0" y="736.8" width="1.5" height="2.6" fill="#55565a"/>
<rect x="832.6" y="736.8" width="1.5" height="2.6" fill="#55565a"/>
<rect x="651.4" y="745.0" width="6.2" height="10.2" rx="0.4" fill="#2a2420"/>
<rect x="651.4" y="745.0" width="6.2" height="2.4" fill="#dededb"/>
<rect x="651.4" y="752.8" width="6.2" height="2.4" fill="#dededb"/>
<rect x="652.4" y="748.2" width="4.2" height="3.8" fill="#8a4a2a"/>
<rect x="653.6" y="749.2" width="1.6" height="1.6" fill="#e3cdb4"/>
<rect x="659.6" y="745.6" width="5.6" height="8.6" rx="1.4" fill="#303135" stroke="#56575b" stroke-width="0.5"/>
<rect x="660.5" y="746.6" width="3.8" height="1.6" rx="0.6" fill="#44464a"/>
<rect x="660.4" y="754.8" width="4.0" height="0.9" fill="#8a8b8d"/>
<rect x="660.4" y="744.2" width="4.0" height="0.9" fill="#8a8b8d"/>
<rect x="666.8" y="745.6" width="5.6" height="8.6" rx="1.4" fill="#303135" stroke="#56575b" stroke-width="0.5"/>
<rect x="667.7" y="746.6" width="3.8" height="1.6" rx="0.6" fill="#44464a"/>
<rect x="667.6" y="754.8" width="4.0" height="0.9" fill="#8a8b8d"/>
<rect x="667.6" y="744.2" width="4.0" height="0.9" fill="#8a8b8d"/>
<rect x="674.0" y="745.6" width="5.6" height="8.6" rx="1.4" fill="#303135" stroke="#56575b" stroke-width="0.5"/>
<rect x="674.9" y="746.6" width="3.8" height="1.6" rx="0.6" fill="#44464a"/>
<rect x="674.8" y="754.8" width="4.0" height="0.9" fill="#8a8b8d"/>
<rect x="674.8" y="744.2" width="4.0" height="0.9" fill="#8a8b8d"/>
<rect x="681.2" y="745.6" width="5.6" height="8.6" rx="1.4" fill="#303135" stroke="#56575b" stroke-width="0.5"/>
<rect x="682.1" y="746.6" width="3.8" height="1.6" rx="0.6" fill="#44464a"/>
<rect x="682.0" y="754.8" width="4.0" height="0.9" fill="#8a8b8d"/>
<rect x="682.0" y="744.2" width="4.0" height="0.9" fill="#8a8b8d"/>
<rect x="688.4" y="745.6" width="5.6" height="8.6" rx="1.4" fill="#303135" stroke="#56575b" stroke-width="0.5"/>
<rect x="689.3" y="746.6" width="3.8" height="1.6" rx="0.6" fill="#44464a"/>
<rect x="689.2" y="754.8" width="4.0" height="0.9" fill="#8a8b8d"/>
<rect x="689.2" y="744.2" width="4.0" height="0.9" fill="#8a8b8d"/>
<rect x="704.8" y="745.0" width="6.2" height="10.2" rx="0.4" fill="#2a2420"/>
<rect x="704.8" y="745.0" width="6.2" height="2.4" fill="#dededb"/>
<rect x="704.8" y="752.8" width="6.2" height="2.4" fill="#dededb"/>
<rect x="705.8" y="748.2" width="4.2" height="3.8" fill="#8a4a2a"/>
<rect x="707.0" y="749.2" width="1.6" height="1.6" fill="#e3cdb4"/>
<rect x="713.0" y="745.6" width="5.6" height="8.6" rx="1.4" fill="#303135" stroke="#56575b" stroke-width="0.5"/>
<rect x="713.9" y="746.6" width="3.8" height="1.6" rx="0.6" fill="#44464a"/>
<rect x="713.8" y="754.8" width="4.0" height="0.9" fill="#8a8b8d"/>
<rect x="713.8" y="744.2" width="4.0" height="0.9" fill="#8a8b8d"/>
<rect x="720.2" y="745.6" width="5.6" height="8.6" rx="1.4" fill="#303135" stroke="#56575b" stroke-width="0.5"/>
<rect x="721.1" y="746.6" width="3.8" height="1.6" rx="0.6" fill="#44464a"/>
<rect x="721.0" y="754.8" width="4.0" height="0.9" fill="#8a8b8d"/>
<rect x="721.0" y="744.2" width="4.0" height="0.9" fill="#8a8b8d"/>
<rect x="727.4" y="745.6" width="5.6" height="8.6" rx="1.4" fill="#303135" stroke="#56575b" stroke-width="0.5"/>
<rect x="728.3" y="746.6" width="3.8" height="1.6" rx="0.6" fill="#44464a"/>
<rect x="728.2" y="754.8" width="4.0" height="0.9" fill="#8a8b8d"/>
<rect x="728.2" y="744.2" width="4.0" height="0.9" fill="#8a8b8d"/>
<rect x="734.6" y="745.6" width="5.6" height="8.6" rx="1.4" fill="#303135" stroke="#56575b" stroke-width="0.5"/>
<rect x="735.5" y="746.6" width="3.8" height="1.6" rx="0.6" fill="#44464a"/>
<rect x="735.4" y="754.8" width="4.0" height="0.9" fill="#8a8b8d"/>
<rect x="735.4" y="744.2" width="4.0" height="0.9" fill="#8a8b8d"/>
<rect x="741.8" y="745.6" width="5.6" height="8.6" rx="1.4" fill="#303135" stroke="#56575b" stroke-width="0.5"/>
<rect x="742.7" y="746.6" width="3.8" height="1.6" rx="0.6" fill="#44464a"/>
<rect x="742.6" y="754.8" width="4.0" height="0.9" fill="#8a8b8d"/>
<rect x="742.6" y="744.2" width="4.0" height="0.9" fill="#8a8b8d"/>
<rect x="757.4" y="745.0" width="6.2" height="10.2" rx="0.4" fill="#2a2420"/>
<rect x="757.4" y="745.0" width="6.2" height="2.4" fill="#dededb"/>
<rect x="757.4" y="752.8" width="6.2" height="2.4" fill="#dededb"/>
<rect x="758.4" y="748.2" width="4.2" height="3.8" fill="#8a4a2a"/>
<rect x="759.6" y="749.2" width="1.6" height="1.6" fill="#e3cdb4"/>
<rect x="765.6" y="745.6" width="5.6" height="8.6" rx="1.4" fill="#303135" stroke="#56575b" stroke-width="0.5"/>
<rect x="766.5" y="746.6" width="3.8" height="1.6" rx="0.6" fill="#44464a"/>
<rect x="766.4" y="754.8" width="4.0" height="0.9" fill="#8a8b8d"/>
<rect x="766.4" y="744.2" width="4.0" height="0.9" fill="#8a8b8d"/>
<rect x="772.8" y="745.6" width="5.6" height="8.6" rx="1.4" fill="#303135" stroke="#56575b" stroke-width="0.5"/>
<rect x="773.7" y="746.6" width="3.8" height="1.6" rx="0.6" fill="#44464a"/>
<rect x="773.6" y="754.8" width="4.0" height="0.9" fill="#8a8b8d"/>
<rect x="773.6" y="744.2" width="4.0" height="0.9" fill="#8a8b8d"/>
<rect x="780.0" y="745.6" width="5.6" height="8.6" rx="1.4" fill="#303135" stroke="#56575b" stroke-width="0.5"/>
<rect x="780.9" y="746.6" width="3.8" height="1.6" rx="0.6" fill="#44464a"/>
<rect x="780.8" y="754.8" width="4.0" height="0.9" fill="#8a8b8d"/>
<rect x="780.8" y="744.2" width="4.0" height="0.9" fill="#8a8b8d"/>
<rect x="787.2" y="745.6" width="5.6" height="8.6" rx="1.4" fill="#303135" stroke="#56575b" stroke-width="0.5"/>
<rect x="788.1" y="746.6" width="3.8" height="1.6" rx="0.6" fill="#44464a"/>
<rect x="788.0" y="754.8" width="4.0" height="0.9" fill="#8a8b8d"/>
<rect x="788.0" y="744.2" width="4.0" height="0.9" fill="#8a8b8d"/>
<rect x="794.4" y="745.6" width="5.6" height="8.6" rx="1.4" fill="#303135" stroke="#56575b" stroke-width="0.5"/>
<rect x="795.3" y="746.6" width="3.8" height="1.6" rx="0.6" fill="#44464a"/>
<rect x="795.2" y="754.8" width="4.0" height="0.9" fill="#8a8b8d"/>
<rect x="795.2" y="744.2" width="4.0" height="0.9" fill="#8a8b8d"/>
<rect x="810.2" y="745.0" width="6.2" height="10.2" rx="0.4" fill="#2a2420"/>
<rect x="810.2" y="745.0" width="6.2" height="2.4" fill="#dededb"/>
<rect x="810.2" y="752.8" width="6.2" height="2.4" fill="#dededb"/>
<rect x="811.2" y="748.2" width="4.2" height="3.8" fill="#8a4a2a"/>
<rect x="812.4" y="749.2" width="1.6" height="1.6" fill="#e3cdb4"/>
<rect x="818.4" y="745.6" width="5.6" height="8.6" rx="1.4" fill="#303135" stroke="#56575b" stroke-width="0.5"/>
<rect x="819.3" y="746.6" width="3.8" height="1.6" rx="0.6" fill="#44464a"/>
<rect x="819.2" y="754.8" width="4.0" height="0.9" fill="#8a8b8d"/>
<rect x="819.2" y="744.2" width="4.0" height="0.9" fill="#8a8b8d"/>
<rect x="825.6" y="745.6" width="5.6" height="8.6" rx="1.4" fill="#303135" stroke="#56575b" stroke-width="0.5"/>
<rect x="826.5" y="746.6" width="3.8" height="1.6" rx="0.6" fill="#44464a"/>
<rect x="826.4" y="754.8" width="4.0" height="0.9" fill="#8a8b8d"/>
<rect x="826.4" y="744.2" width="4.0" height="0.9" fill="#8a8b8d"/>
<rect x="832.8" y="745.6" width="5.6" height="8.6" rx="1.4" fill="#303135" stroke="#56575b" stroke-width="0.5"/>
<rect x="833.7" y="746.6" width="3.8" height="1.6" rx="0.6" fill="#44464a"/>
<rect x="833.6" y="754.8" width="4.0" height="0.9" fill="#8a8b8d"/>
<rect x="833.6" y="744.2" width="4.0" height="0.9" fill="#8a8b8d"/>
<rect x="840.0" y="745.6" width="5.6" height="8.6" rx="1.4" fill="#303135" stroke="#56575b" stroke-width="0.5"/>
<rect x="840.9" y="746.6" width="3.8" height="1.6" rx="0.6" fill="#44464a"/>
<rect x="840.8" y="754.8" width="4.0" height="0.9" fill="#8a8b8d"/>
<rect x="840.8" y="744.2" width="4.0" height="0.9" fill="#8a8b8d"/>
<rect x="696.8" y="747.6" width="1.8" height="3.6" fill="#cfcfcc"/>
<rect x="699.2" y="747.6" width="1.8" height="3.6" fill="#cfcfcc"/>
<rect x="750.4" y="746.6" width="2.4" height="5.6" fill="#c4c4c1"/>
<rect x="854.2" y="745.4" width="5.8" height="9.0" rx="1.4" fill="#303135" stroke="#56575b" stroke-width="0.5"/>
<rect x="855.1" y="746.4" width="4.0" height="1.6" rx="0.6" fill="#44464a"/>
<rect x="855.0" y="755.0" width="4.2" height="0.9" fill="#8a8b8d"/>
<rect x="855.0" y="744.0" width="4.2" height="0.9" fill="#8a8b8d"/>
<rect x="867.4" y="745.4" width="6.0" height="9.0" rx="1.4" fill="#303135" stroke="#56575b" stroke-width="0.5"/>
<rect x="868.3" y="746.4" width="4.2" height="1.6" rx="0.6" fill="#44464a"/>
<rect x="868.2" y="755.0" width="4.4" height="0.9" fill="#8a8b8d"/>
<rect x="868.2" y="744.0" width="4.4" height="0.9" fill="#8a8b8d"/>
<rect x="861.6" y="747.0" width="2.6" height="2.0" fill="#cfcfcc"/>
<rect x="861.6" y="750.0" width="2.6" height="2.0" fill="#cfcfcc"/>
<rect x="875.2" y="746.4" width="2.6" height="2.4" fill="#cfcfcc"/>
<rect x="875.2" y="749.8" width="2.6" height="2.4" fill="#cfcfcc"/>
<text x="853.8" y="722.4" font-size="2.7" fill="#e3e3e1" font-weight="bold">FORMAT</text>
<rect x="852.8" y="724.8" width="14.4" height="4.4" rx="0.6" fill="#c9c9c6"/>
<rect x="856.2" y="725.2" width="7.6" height="3.8" rx="0.5" fill="#9b7f74"/>
<rect x="857.2" y="725.8" width="5.6" height="2.6" rx="0.4" fill="#b9a097"/>
<rect x="856.2" y="730.4" width="7.6" height="2.0" fill="#8f9aa8"/>
<rect x="856.2" y="733.0" width="7.6" height="2.2" fill="#a9a9a7"/>
<text x="876.6" y="723.2" font-size="2.7" fill="#e3e3e1" font-weight="bold">DC</text>
<path d="M662.2 767V758.6H682.0M695.3 758.6H717.3V767" fill="none" stroke="#e9e9e6" stroke-width="0.7"/>
<text x="688.6" y="759.6" font-size="2.8" fill="#e9e9e6" font-weight="bold" text-anchor="middle" textLength="12.3" lengthAdjust="spacingAndGlyphs">READER1</text>
<rect x="664.3" y="762.6" width="4.0" height="1.7" fill="#e9e9e6"/>
<rect x="671.0" y="762.6" width="4.0" height="1.7" fill="#e9e9e6"/>
<rect x="677.7" y="762.6" width="4.0" height="1.7" fill="#e9e9e6"/>
<rect x="684.4" y="762.6" width="4.0" height="1.7" fill="#e9e9e6"/>
<rect x="691.1" y="762.6" width="4.0" height="1.7" fill="#e9e9e6"/>
<rect x="697.8" y="762.6" width="4.0" height="1.7" fill="#e9e9e6"/>
<rect x="704.5" y="762.6" width="4.0" height="1.7" fill="#e9e9e6"/>
<rect x="711.2" y="762.6" width="4.0" height="1.7" fill="#e9e9e6"/>
<rect x="661.9" y="767.0" width="55.7" height="31.0" rx="1.2" fill="#7ec663"/>
<rect x="661.9" y="767.0" width="55.7" height="1.0" fill="#93d67b"/>
<rect x="661.9" y="778.2" width="55.7" height="0.7" fill="#6fbb57"/>
<rect x="661.9" y="784.4" width="55.7" height="13.6" rx="1.2" fill="#62b84a"/>
<rect x="661.9" y="783.8" width="55.7" height="1.1" fill="#4a9f3b"/>
<rect x="661.9" y="796.8" width="55.7" height="1.2" rx="0.6" fill="#4a9f3b"/>
<rect x="661.9" y="767.0" width="0.8" height="31.0" fill="#58ad44"/>
<rect x="716.8" y="767.0" width="0.8" height="31.0" fill="#58ad44"/>
<circle cx="666.3" cy="790.0" r="3.0" fill="#4a9f3b"/>
<circle cx="666.3" cy="790.0" r="2.4" fill="#eef3ee"/>
<circle cx="666.1" cy="790.2" r="1.2" fill="#c6d3cc"/>
<rect x="665.0" y="794.6" width="2.6" height="1.1" rx="0.4" fill="#3f9135"/>
<circle cx="673.0" cy="790.0" r="3.0" fill="#4a9f3b"/>
<circle cx="673.0" cy="790.0" r="2.4" fill="#eef3ee"/>
<circle cx="672.8" cy="790.2" r="1.2" fill="#c6d3cc"/>
<rect x="671.7" y="794.6" width="2.6" height="1.1" rx="0.4" fill="#3f9135"/>
<rect x="669.4" y="768.5" width="0.5" height="14.0" fill="#74bf5b"/>
<circle cx="679.7" cy="790.0" r="3.0" fill="#4a9f3b"/>
<circle cx="679.7" cy="790.0" r="2.4" fill="#eef3ee"/>
<circle cx="679.5" cy="790.2" r="1.2" fill="#c6d3cc"/>
<rect x="678.4" y="794.6" width="2.6" height="1.1" rx="0.4" fill="#3f9135"/>
<rect x="676.1" y="768.5" width="0.5" height="14.0" fill="#74bf5b"/>
<circle cx="686.4" cy="790.0" r="3.0" fill="#4a9f3b"/>
<circle cx="686.4" cy="790.0" r="2.4" fill="#eef3ee"/>
<circle cx="686.2" cy="790.2" r="1.2" fill="#c6d3cc"/>
<rect x="685.1" y="794.6" width="2.6" height="1.1" rx="0.4" fill="#3f9135"/>
<rect x="682.8" y="768.5" width="0.5" height="14.0" fill="#74bf5b"/>
<circle cx="693.1" cy="790.0" r="3.0" fill="#4a9f3b"/>
<circle cx="693.1" cy="790.0" r="2.4" fill="#eef3ee"/>
<circle cx="692.9" cy="790.2" r="1.2" fill="#c6d3cc"/>
<rect x="691.8" y="794.6" width="2.6" height="1.1" rx="0.4" fill="#3f9135"/>
<rect x="689.5" y="768.5" width="0.5" height="14.0" fill="#74bf5b"/>
<circle cx="699.8" cy="790.0" r="3.0" fill="#4a9f3b"/>
<circle cx="699.8" cy="790.0" r="2.4" fill="#eef3ee"/>
<circle cx="699.6" cy="790.2" r="1.2" fill="#c6d3cc"/>
<rect x="698.5" y="794.6" width="2.6" height="1.1" rx="0.4" fill="#3f9135"/>
<rect x="696.2" y="768.5" width="0.5" height="14.0" fill="#74bf5b"/>
<circle cx="706.5" cy="790.0" r="3.0" fill="#4a9f3b"/>
<circle cx="706.5" cy="790.0" r="2.4" fill="#eef3ee"/>
<circle cx="706.3" cy="790.2" r="1.2" fill="#c6d3cc"/>
<rect x="705.2" y="794.6" width="2.6" height="1.1" rx="0.4" fill="#3f9135"/>
<rect x="702.9" y="768.5" width="0.5" height="14.0" fill="#74bf5b"/>
<circle cx="713.2" cy="790.0" r="3.0" fill="#4a9f3b"/>
<circle cx="713.2" cy="790.0" r="2.4" fill="#eef3ee"/>
<circle cx="713.0" cy="790.2" r="1.2" fill="#c6d3cc"/>
<rect x="711.9" y="794.6" width="2.6" height="1.1" rx="0.4" fill="#3f9135"/>
<rect x="709.6" y="768.5" width="0.5" height="14.0" fill="#74bf5b"/>
<path d="M723.0 767V758.6H742.3M755.4 758.6H776.9V767" fill="none" stroke="#e9e9e6" stroke-width="0.7"/>
<text x="748.9" y="759.6" font-size="2.8" fill="#e9e9e6" font-weight="bold" text-anchor="middle" textLength="12.0" lengthAdjust="spacingAndGlyphs">READER2</text>
<rect x="725.0" y="762.6" width="4.0" height="1.7" fill="#e9e9e6"/>
<rect x="731.5" y="762.6" width="4.0" height="1.7" fill="#e9e9e6"/>
<rect x="738.1" y="762.6" width="4.0" height="1.7" fill="#e9e9e6"/>
<rect x="744.7" y="762.6" width="4.0" height="1.7" fill="#e9e9e6"/>
<rect x="751.2" y="762.6" width="4.0" height="1.7" fill="#e9e9e6"/>
<rect x="757.8" y="762.6" width="4.0" height="1.7" fill="#e9e9e6"/>
<rect x="764.4" y="762.6" width="4.0" height="1.7" fill="#e9e9e6"/>
<rect x="770.9" y="762.6" width="4.0" height="1.7" fill="#e9e9e6"/>
<rect x="722.7" y="767.0" width="54.5" height="31.0" rx="1.2" fill="#7ec663"/>
<rect x="722.7" y="767.0" width="54.5" height="1.0" fill="#93d67b"/>
<rect x="722.7" y="778.2" width="54.5" height="0.7" fill="#6fbb57"/>
<rect x="722.7" y="784.4" width="54.5" height="13.6" rx="1.2" fill="#62b84a"/>
<rect x="722.7" y="783.8" width="54.5" height="1.1" fill="#4a9f3b"/>
<rect x="722.7" y="796.8" width="54.5" height="1.2" rx="0.6" fill="#4a9f3b"/>
<rect x="722.7" y="767.0" width="0.8" height="31.0" fill="#58ad44"/>
<rect x="776.4" y="767.0" width="0.8" height="31.0" fill="#58ad44"/>
<circle cx="727.0" cy="790.0" r="3.0" fill="#4a9f3b"/>
<circle cx="727.0" cy="790.0" r="2.4" fill="#eef3ee"/>
<circle cx="726.8" cy="790.2" r="1.2" fill="#c6d3cc"/>
<rect x="725.7" y="794.6" width="2.6" height="1.1" rx="0.4" fill="#3f9135"/>
<circle cx="733.5" cy="790.0" r="3.0" fill="#4a9f3b"/>
<circle cx="733.5" cy="790.0" r="2.4" fill="#eef3ee"/>
<circle cx="733.3" cy="790.2" r="1.2" fill="#c6d3cc"/>
<rect x="732.2" y="794.6" width="2.6" height="1.1" rx="0.4" fill="#3f9135"/>
<rect x="730.0" y="768.5" width="0.5" height="14.0" fill="#74bf5b"/>
<circle cx="740.1" cy="790.0" r="3.0" fill="#4a9f3b"/>
<circle cx="740.1" cy="790.0" r="2.4" fill="#eef3ee"/>
<circle cx="739.9" cy="790.2" r="1.2" fill="#c6d3cc"/>
<rect x="738.8" y="794.6" width="2.6" height="1.1" rx="0.4" fill="#3f9135"/>
<rect x="736.6" y="768.5" width="0.5" height="14.0" fill="#74bf5b"/>
<circle cx="746.7" cy="790.0" r="3.0" fill="#4a9f3b"/>
<circle cx="746.7" cy="790.0" r="2.4" fill="#eef3ee"/>
<circle cx="746.5" cy="790.2" r="1.2" fill="#c6d3cc"/>
<rect x="745.4" y="794.6" width="2.6" height="1.1" rx="0.4" fill="#3f9135"/>
<rect x="743.1" y="768.5" width="0.5" height="14.0" fill="#74bf5b"/>
<circle cx="753.2" cy="790.0" r="3.0" fill="#4a9f3b"/>
<circle cx="753.2" cy="790.0" r="2.4" fill="#eef3ee"/>
<circle cx="753.0" cy="790.2" r="1.2" fill="#c6d3cc"/>
<rect x="751.9" y="794.6" width="2.6" height="1.1" rx="0.4" fill="#3f9135"/>
<rect x="749.7" y="768.5" width="0.5" height="14.0" fill="#74bf5b"/>
<circle cx="759.8" cy="790.0" r="3.0" fill="#4a9f3b"/>
<circle cx="759.8" cy="790.0" r="2.4" fill="#eef3ee"/>
<circle cx="759.6" cy="790.2" r="1.2" fill="#c6d3cc"/>
<rect x="758.5" y="794.6" width="2.6" height="1.1" rx="0.4" fill="#3f9135"/>
<rect x="756.3" y="768.5" width="0.5" height="14.0" fill="#74bf5b"/>
<circle cx="766.4" cy="790.0" r="3.0" fill="#4a9f3b"/>
<circle cx="766.4" cy="790.0" r="2.4" fill="#eef3ee"/>
<circle cx="766.2" cy="790.2" r="1.2" fill="#c6d3cc"/>
<rect x="765.1" y="794.6" width="2.6" height="1.1" rx="0.4" fill="#3f9135"/>
<rect x="762.8" y="768.5" width="0.5" height="14.0" fill="#74bf5b"/>
<circle cx="772.9" cy="790.0" r="3.0" fill="#4a9f3b"/>
<circle cx="772.9" cy="790.0" r="2.4" fill="#eef3ee"/>
<circle cx="772.7" cy="790.2" r="1.2" fill="#c6d3cc"/>
<rect x="771.6" y="794.6" width="2.6" height="1.1" rx="0.4" fill="#3f9135"/>
<rect x="769.4" y="768.5" width="0.5" height="14.0" fill="#74bf5b"/>
<path d="M782.7 767V758.6H801.8M814.7 758.6H836.0V767" fill="none" stroke="#e9e9e6" stroke-width="0.7"/>
<text x="808.3" y="759.6" font-size="2.8" fill="#e9e9e6" font-weight="bold" text-anchor="middle" textLength="11.9" lengthAdjust="spacingAndGlyphs">READER3</text>
<rect x="784.6" y="762.6" width="4.0" height="1.7" fill="#e9e9e6"/>
<rect x="791.1" y="762.6" width="4.0" height="1.7" fill="#e9e9e6"/>
<rect x="797.6" y="762.6" width="4.0" height="1.7" fill="#e9e9e6"/>
<rect x="804.1" y="762.6" width="4.0" height="1.7" fill="#e9e9e6"/>
<rect x="810.6" y="762.6" width="4.0" height="1.7" fill="#e9e9e6"/>
<rect x="817.1" y="762.6" width="4.0" height="1.7" fill="#e9e9e6"/>
<rect x="823.6" y="762.6" width="4.0" height="1.7" fill="#e9e9e6"/>
<rect x="830.1" y="762.6" width="4.0" height="1.7" fill="#e9e9e6"/>
<rect x="782.4" y="767.0" width="53.9" height="31.0" rx="1.2" fill="#7ec663"/>
<rect x="782.4" y="767.0" width="53.9" height="1.0" fill="#93d67b"/>
<rect x="782.4" y="778.2" width="53.9" height="0.7" fill="#6fbb57"/>
<rect x="782.4" y="784.4" width="53.9" height="13.6" rx="1.2" fill="#62b84a"/>
<rect x="782.4" y="783.8" width="53.9" height="1.1" fill="#4a9f3b"/>
<rect x="782.4" y="796.8" width="53.9" height="1.2" rx="0.6" fill="#4a9f3b"/>
<rect x="782.4" y="767.0" width="0.8" height="31.0" fill="#58ad44"/>
<rect x="835.5" y="767.0" width="0.8" height="31.0" fill="#58ad44"/>
<circle cx="786.6" cy="790.0" r="3.0" fill="#4a9f3b"/>
<circle cx="786.6" cy="790.0" r="2.4" fill="#eef3ee"/>
<circle cx="786.4" cy="790.2" r="1.2" fill="#c6d3cc"/>
<rect x="785.3" y="794.6" width="2.6" height="1.1" rx="0.4" fill="#3f9135"/>
<circle cx="793.1" cy="790.0" r="3.0" fill="#4a9f3b"/>
<circle cx="793.1" cy="790.0" r="2.4" fill="#eef3ee"/>
<circle cx="792.9" cy="790.2" r="1.2" fill="#c6d3cc"/>
<rect x="791.8" y="794.6" width="2.6" height="1.1" rx="0.4" fill="#3f9135"/>
<rect x="789.6" y="768.5" width="0.5" height="14.0" fill="#74bf5b"/>
<circle cx="799.6" cy="790.0" r="3.0" fill="#4a9f3b"/>
<circle cx="799.6" cy="790.0" r="2.4" fill="#eef3ee"/>
<circle cx="799.4" cy="790.2" r="1.2" fill="#c6d3cc"/>
<rect x="798.3" y="794.6" width="2.6" height="1.1" rx="0.4" fill="#3f9135"/>
<rect x="796.1" y="768.5" width="0.5" height="14.0" fill="#74bf5b"/>
<circle cx="806.1" cy="790.0" r="3.0" fill="#4a9f3b"/>
<circle cx="806.1" cy="790.0" r="2.4" fill="#eef3ee"/>
<circle cx="805.9" cy="790.2" r="1.2" fill="#c6d3cc"/>
<rect x="804.8" y="794.6" width="2.6" height="1.1" rx="0.4" fill="#3f9135"/>
<rect x="802.6" y="768.5" width="0.5" height="14.0" fill="#74bf5b"/>
<circle cx="812.6" cy="790.0" r="3.0" fill="#4a9f3b"/>
<circle cx="812.6" cy="790.0" r="2.4" fill="#eef3ee"/>
<circle cx="812.4" cy="790.2" r="1.2" fill="#c6d3cc"/>
<rect x="811.3" y="794.6" width="2.6" height="1.1" rx="0.4" fill="#3f9135"/>
<rect x="809.1" y="768.5" width="0.5" height="14.0" fill="#74bf5b"/>
<circle cx="819.1" cy="790.0" r="3.0" fill="#4a9f3b"/>
<circle cx="819.1" cy="790.0" r="2.4" fill="#eef3ee"/>
<circle cx="818.9" cy="790.2" r="1.2" fill="#c6d3cc"/>
<rect x="817.8" y="794.6" width="2.6" height="1.1" rx="0.4" fill="#3f9135"/>
<rect x="815.6" y="768.5" width="0.5" height="14.0" fill="#74bf5b"/>
<circle cx="825.6" cy="790.0" r="3.0" fill="#4a9f3b"/>
<circle cx="825.6" cy="790.0" r="2.4" fill="#eef3ee"/>
<circle cx="825.4" cy="790.2" r="1.2" fill="#c6d3cc"/>
<rect x="824.3" y="794.6" width="2.6" height="1.1" rx="0.4" fill="#3f9135"/>
<rect x="822.1" y="768.5" width="0.5" height="14.0" fill="#74bf5b"/>
<circle cx="832.1" cy="790.0" r="3.0" fill="#4a9f3b"/>
<circle cx="832.1" cy="790.0" r="2.4" fill="#eef3ee"/>
<circle cx="831.9" cy="790.2" r="1.2" fill="#c6d3cc"/>
<rect x="830.8" y="794.6" width="2.6" height="1.1" rx="0.4" fill="#3f9135"/>
<rect x="828.6" y="768.5" width="0.5" height="14.0" fill="#74bf5b"/>
<path d="M841.8 767V758.6H861.1M874.2 758.6H895.7V767" fill="none" stroke="#e9e9e6" stroke-width="0.7"/>
<text x="867.7" y="759.6" font-size="2.8" fill="#e9e9e6" font-weight="bold" text-anchor="middle" textLength="12.0" lengthAdjust="spacingAndGlyphs">READER4</text>
<rect x="843.8" y="762.6" width="4.0" height="1.7" fill="#e9e9e6"/>
<rect x="850.3" y="762.6" width="4.0" height="1.7" fill="#e9e9e6"/>
<rect x="856.9" y="762.6" width="4.0" height="1.7" fill="#e9e9e6"/>
<rect x="863.5" y="762.6" width="4.0" height="1.7" fill="#e9e9e6"/>
<rect x="870.0" y="762.6" width="4.0" height="1.7" fill="#e9e9e6"/>
<rect x="876.6" y="762.6" width="4.0" height="1.7" fill="#e9e9e6"/>
<rect x="883.2" y="762.6" width="4.0" height="1.7" fill="#e9e9e6"/>
<rect x="889.7" y="762.6" width="4.0" height="1.7" fill="#e9e9e6"/>
<rect x="841.5" y="767.0" width="54.5" height="31.0" rx="1.2" fill="#7ec663"/>
<rect x="841.5" y="767.0" width="54.5" height="1.0" fill="#93d67b"/>
<rect x="841.5" y="778.2" width="54.5" height="0.7" fill="#6fbb57"/>
<rect x="841.5" y="784.4" width="54.5" height="13.6" rx="1.2" fill="#62b84a"/>
<rect x="841.5" y="783.8" width="54.5" height="1.1" fill="#4a9f3b"/>
<rect x="841.5" y="796.8" width="54.5" height="1.2" rx="0.6" fill="#4a9f3b"/>
<rect x="841.5" y="767.0" width="0.8" height="31.0" fill="#58ad44"/>
<rect x="895.2" y="767.0" width="0.8" height="31.0" fill="#58ad44"/>
<circle cx="845.8" cy="790.0" r="3.0" fill="#4a9f3b"/>
<circle cx="845.8" cy="790.0" r="2.4" fill="#eef3ee"/>
<circle cx="845.6" cy="790.2" r="1.2" fill="#c6d3cc"/>
<rect x="844.5" y="794.6" width="2.6" height="1.1" rx="0.4" fill="#3f9135"/>
<circle cx="852.3" cy="790.0" r="3.0" fill="#4a9f3b"/>
<circle cx="852.3" cy="790.0" r="2.4" fill="#eef3ee"/>
<circle cx="852.1" cy="790.2" r="1.2" fill="#c6d3cc"/>
<rect x="851.0" y="794.6" width="2.6" height="1.1" rx="0.4" fill="#3f9135"/>
<rect x="848.8" y="768.5" width="0.5" height="14.0" fill="#74bf5b"/>
<circle cx="858.9" cy="790.0" r="3.0" fill="#4a9f3b"/>
<circle cx="858.9" cy="790.0" r="2.4" fill="#eef3ee"/>
<circle cx="858.7" cy="790.2" r="1.2" fill="#c6d3cc"/>
<rect x="857.6" y="794.6" width="2.6" height="1.1" rx="0.4" fill="#3f9135"/>
<rect x="855.4" y="768.5" width="0.5" height="14.0" fill="#74bf5b"/>
<circle cx="865.5" cy="790.0" r="3.0" fill="#4a9f3b"/>
<circle cx="865.5" cy="790.0" r="2.4" fill="#eef3ee"/>
<circle cx="865.3" cy="790.2" r="1.2" fill="#c6d3cc"/>
<rect x="864.2" y="794.6" width="2.6" height="1.1" rx="0.4" fill="#3f9135"/>
<rect x="861.9" y="768.5" width="0.5" height="14.0" fill="#74bf5b"/>
<circle cx="872.0" cy="790.0" r="3.0" fill="#4a9f3b"/>
<circle cx="872.0" cy="790.0" r="2.4" fill="#eef3ee"/>
<circle cx="871.8" cy="790.2" r="1.2" fill="#c6d3cc"/>
<rect x="870.7" y="794.6" width="2.6" height="1.1" rx="0.4" fill="#3f9135"/>
<rect x="868.5" y="768.5" width="0.5" height="14.0" fill="#74bf5b"/>
<circle cx="878.6" cy="790.0" r="3.0" fill="#4a9f3b"/>
<circle cx="878.6" cy="790.0" r="2.4" fill="#eef3ee"/>
<circle cx="878.4" cy="790.2" r="1.2" fill="#c6d3cc"/>
<rect x="877.3" y="794.6" width="2.6" height="1.1" rx="0.4" fill="#3f9135"/>
<rect x="875.1" y="768.5" width="0.5" height="14.0" fill="#74bf5b"/>
<circle cx="885.2" cy="790.0" r="3.0" fill="#4a9f3b"/>
<circle cx="885.2" cy="790.0" r="2.4" fill="#eef3ee"/>
<circle cx="885.0" cy="790.2" r="1.2" fill="#c6d3cc"/>
<rect x="883.9" y="794.6" width="2.6" height="1.1" rx="0.4" fill="#3f9135"/>
<rect x="881.6" y="768.5" width="0.5" height="14.0" fill="#74bf5b"/>
<circle cx="891.7" cy="790.0" r="3.0" fill="#4a9f3b"/>
<circle cx="891.7" cy="790.0" r="2.4" fill="#eef3ee"/>
<circle cx="891.5" cy="790.2" r="1.2" fill="#c6d3cc"/>
<rect x="890.4" y="794.6" width="2.6" height="1.1" rx="0.4" fill="#3f9135"/>
<rect x="888.2" y="768.5" width="0.5" height="14.0" fill="#74bf5b"/>
<path d="M904.6 757.9L911.2 768.9H898.0Z" fill="#f0f0ed"/>
<path d="M903.4 765.0L904.9 763.2L906.0 765.2L907.6 765.8L908.4 767.6H902.4Z" fill="#0b0b0d"/>
<path d="M899.6 768.2L902.6 763.4" fill="none" stroke="#0b0b0d" stroke-width="0.7"/>
<rect x="896.0" y="771.6" width="24.0" height="0.5" fill="#1f2024"/>
</g>

<!-- p_lines.svg -->
<g id="wires" fill="none" stroke-width="2.8">
<path d="M584.6 700.5H261.4V996" stroke="#dc2228"/>
<path d="M952.6 700.5H1274.3V996" stroke="#dc2228"/>
<path d="M571.4 875.6V1003.3" stroke="#0a9a4e"/>
<path d="M964.6 875.6V1003.3" stroke="#0a9a4e"/>
</g>
<g id="dots">
<circle cx="584.6" cy="700.5" r="8.1" fill="#e61f2b"/>
<circle cx="261.4" cy="996" r="8.1" fill="#e61f2b"/>
<circle cx="952.6" cy="700.5" r="8.1" fill="#e61f2b"/>
<circle cx="1274.3" cy="996" r="8.1" fill="#e61f2b"/>
<circle cx="571.4" cy="875.6" r="8.3" fill="#0a9c4f"/>
<circle cx="571.4" cy="1003.3" r="8.3" fill="#0a9c4f"/>
<circle cx="964.6" cy="875.6" r="8.3" fill="#0a9c4f"/>
<circle cx="964.6" cy="1003.3" r="8.3" fill="#0a9c4f"/>
</g>

<!-- p_reader.svg -->
<g id="reader1" font-family="'Liberation Sans',sans-serif">
<rect x="166.6" y="1176" width="166" height="10.6" rx="4" fill="url(#rdShB)"/>
<rect x="165.3" y="1010" width="168.6" height="171.8" rx="6" fill="#c4c4c4" opacity="0.55"/>
<rect x="166.1" y="1010.7" width="167" height="170.2" rx="5.2" fill="#171718"/>
<g clip-path="url(#rdClip)">
<rect x="166.1" y="1010.7" width="167" height="170.2" fill="url(#rdDark)"/>
<path d="M166.1 1010.7H250.9L214.7 1180.9H166.1Z" fill="url(#rdGloss)"/>
<path d="M249.9 1010.7H251.9L215.7 1180.9H213.7Z" fill="#2a2a2b" opacity="0.7"/>
<rect x="166.1" y="1010.7" width="167" height="1.6" fill="#4a4a4b" opacity="0.8"/>
<rect x="166.1" y="1010.7" width="1.3" height="170.2" fill="#3e3e3f" opacity="0.8"/>
<rect x="331.8" y="1010.7" width="1.3" height="170.2" fill="#2d2d2e"/>
<rect x="166.1" y="1179.2" width="167" height="1.7" fill="#262627"/>

</g>
<use href="#sq" x="206.30" y="1029.4"/>
<use href="#sq" x="215.09" y="1029.4"/>
<use href="#sq" x="223.88" y="1029.4"/>
<use href="#sq" x="232.67" y="1029.4"/>
<use href="#sq" x="241.46" y="1029.4"/>
<use href="#sq" x="250.25" y="1029.4"/>
<use href="#sq" x="259.04" y="1029.4"/>
<use href="#sq" x="267.83" y="1029.4"/>
<use href="#sq" x="276.62" y="1029.4"/>
<use href="#sq" x="285.41" y="1029.4"/>
<circle cx="208.5" cy="1059.8" r="8.6" fill="none" stroke="#dcdcdc" stroke-width="0.9"/>
<text x="208.5" y="1063.0" font-size="9.0" fill="#ececec" text-anchor="middle">1</text>
<circle cx="248.8" cy="1059.8" r="8.6" fill="none" stroke="#dcdcdc" stroke-width="0.9"/>
<text x="248.8" y="1063.0" font-size="9.0" fill="#ececec" text-anchor="middle">2</text>
<circle cx="289.0" cy="1059.8" r="8.6" fill="none" stroke="#dcdcdc" stroke-width="0.9"/>
<text x="289.0" y="1063.0" font-size="9.0" fill="#ececec" text-anchor="middle">3</text>
<circle cx="208.5" cy="1091.4" r="8.6" fill="none" stroke="#dcdcdc" stroke-width="0.9"/>
<text x="208.5" y="1094.6" font-size="9.0" fill="#ececec" text-anchor="middle">4</text>
<circle cx="248.8" cy="1091.4" r="8.6" fill="none" stroke="#dcdcdc" stroke-width="0.9"/>
<text x="248.8" y="1094.6" font-size="9.0" fill="#ececec" text-anchor="middle">5</text>
<circle cx="289.0" cy="1091.4" r="8.6" fill="none" stroke="#dcdcdc" stroke-width="0.9"/>
<text x="289.0" y="1094.6" font-size="9.0" fill="#ececec" text-anchor="middle">6</text>
<circle cx="208.5" cy="1122.9" r="8.6" fill="none" stroke="#dcdcdc" stroke-width="0.9"/>
<text x="208.5" y="1126.1" font-size="9.0" fill="#ececec" text-anchor="middle">7</text>
<circle cx="248.8" cy="1122.9" r="8.6" fill="none" stroke="#dcdcdc" stroke-width="0.9"/>
<text x="248.8" y="1126.1" font-size="9.0" fill="#ececec" text-anchor="middle">8</text>
<circle cx="289.0" cy="1122.9" r="8.6" fill="none" stroke="#dcdcdc" stroke-width="0.9"/>
<text x="289.0" y="1126.1" font-size="9.0" fill="#ececec" text-anchor="middle">9</text>
<circle cx="208.5" cy="1154.5" r="8.6" fill="none" stroke="#dcdcdc" stroke-width="0.9"/>
<text x="208.5" y="1163.6" font-size="17.0" fill="#ececec" text-anchor="middle">*</text>
<circle cx="248.8" cy="1154.5" r="8.6" fill="none" stroke="#dcdcdc" stroke-width="0.9"/>
<text x="248.8" y="1157.7" font-size="9.0" fill="#ececec" text-anchor="middle">0</text>
<circle cx="289.0" cy="1154.5" r="8.6" fill="none" stroke="#dcdcdc" stroke-width="0.9"/>
<text x="289.0" y="1157.5" font-size="8.6" fill="#ececec" text-anchor="middle">#</text>
</g>
<use href="#reader1" x="1036.9" y="0.4"/>

<!-- p_door.svg -->
<g id="door1">
<path d="M533.3 1019.2H611.7V1184.8H603.4V1183.4H543.2V1184.8H533.3Z" fill="#b4171e"/>
<rect x="533.3" y="1019.2" width="78.4" height="1.5" fill="#99121a"/>
<rect x="533.3" y="1019.2" width="1.3" height="165.6" fill="#a3141b"/>
<rect x="610.4" y="1019.2" width="1.3" height="165.6" fill="#a3141b"/>
<path d="M539.2 1183.8V1024.6H606V1183.8" fill="none" stroke="#a1131a" stroke-width="0.9"/>
<rect x="539.6" y="1025.1" width="66" height="3.0" fill="#a91419"/>
<rect x="543.2" y="1028.2" width="60.2" height="155.2" fill="#b11b1a"/>
<path d="M543.2 1183.4V1028.2H603.4V1183.4" fill="none" stroke="#8d0e15" stroke-width="1.2"/>
<rect x="543.2" y="1182.3" width="60.2" height="1.2" fill="#8d0e15" opacity="0.6"/>
<rect x="547.2" y="1029" width="0.9" height="153.4" fill="#8a0d13" opacity="0.28"/>
<rect x="551.6" y="1029" width="0.9" height="153.4" fill="#8a0d13" opacity="0.20"/>
<rect x="595.6" y="1029" width="0.9" height="153.4" fill="#8a0d13" opacity="0.25"/>
<rect x="599.4" y="1029" width="0.9" height="153.4" fill="#8a0d13" opacity="0.22"/>
<rect x="563.0" y="1029" width="0.9" height="153.4" fill="#8a0d13" opacity="0.10"/>
<rect x="583.0" y="1029" width="0.9" height="153.4" fill="#8a0d13" opacity="0.10"/>
<path d="M553.9 1049.6C560 1047.4 566.5 1043 572.5 1042.9C578.4 1043 584.8 1047.4 591 1049.6V1119.6C586.6 1119.4 582.6 1123.4 577.6 1124.2C570.6 1125.3 561 1122.6 553.9 1120.6Z" fill="#b01c18" stroke="#8a0d14" stroke-width="1.7"/>
<path d="M553.9 1049.6C560 1047.4 566.5 1043 572.5 1042.9C578.4 1043 584.8 1047.4 591 1049.6V1119.6C586.6 1119.4 582.6 1123.4 577.6 1124.2C570.6 1125.3 561 1122.6 553.9 1120.6Z" fill="none" stroke="#dc5232" stroke-width="0.8" transform="translate(0.7 0.8)"/>
<ellipse cx="573.3" cy="1083.7" rx="11" ry="33.6" fill="#b21d19" stroke="#8a0d14" stroke-width="1.5"/>
<ellipse cx="573.8" cy="1084.1" rx="10.8" ry="33.4" fill="none" stroke="#dc5232" stroke-width="0.8"/>
<path d="M553.9 1120.9C561 1122.9 570.6 1125.6 577.6 1124.5C582.6 1123.7 586.6 1119.7 591 1119.9" fill="none" stroke="#e3672f" stroke-width="1.1"/>
<path d="M553.9 1127.2C561 1132.6 572 1134.4 577.8 1133.6C583.2 1132.8 587.6 1130.4 591 1126.6V1167.8H553.9Z" fill="#b01c18" stroke="#8a0d14" stroke-width="1.7"/>
<path d="M553.9 1127.2C561 1132.6 572 1134.4 577.8 1133.6C583.2 1132.8 587.6 1130.4 591 1126.6V1167.8H553.9Z" fill="none" stroke="#dc5232" stroke-width="0.8" transform="translate(0.6 0.8)"/>
<rect x="544.9" y="1099.8" width="5" height="18.4" rx="0.8" fill="#ededed" stroke="#b5aaa6" stroke-width="0.5"/>
<rect x="548.2" y="1105.4" width="10.6" height="2.9" rx="1.2" fill="#f4f4f4" stroke="#b9aeaa" stroke-width="0.4"/>
<circle cx="547.4" cy="1113.8" r="1.1" fill="#3a2a2a"/>
<circle cx="547.4" cy="1106.8" r="1.3" fill="#cfcfcf"/>
<path d="M600.8 1137.6L602.4 1135" stroke="#7f0c12" stroke-width="1.1" fill="none"/>
</g>
<use href="#door1" x="393" y="0.3"/>

</svg>
<div class="lb" id="t1" style="left:566px;top:294px;"><span class="l">B/S</span>门点互锁管理系统</div>
<div class="lb" id="t2" style="left:659.4px;top:383.6px;"><span class="l" style="letter-spacing:1px">TCP/IP</span><span style="letter-spacing:1.5px">局域网</span><span style="word-spacing:-2.4px"> </span><span class="l" style="letter-spacing:0.3px">(LAN)</span></div>
<div class="lb" id="t3" style="left:785px;top:492.6px;letter-spacing:1.5px;"><span class="l">TCP/IP</span></div>
<div class="lb" id="t4" style="left:423px;top:647.2px;letter-spacing:2.2px;">韦根</div>
<div class="lb" id="t5" style="left:1031px;top:647.2px;letter-spacing:2.2px;">韦根</div>
<div class="lb" id="t6" style="left:557.6px;top:807.3px;">以太网两门门禁控制器</div>
<div class="lb" id="t7" style="left:153px;top:1204px;">门<span class="l">1</span>读卡器</div>
<div class="lb" id="t8" style="left:538px;top:1204px;">门<span class="l">1</span></div>
<div class="lb" id="t9" style="left:929px;top:1204px;">门<span class="l">2</span></div>
<div class="lb" id="t10" style="left:1190px;top:1204px;">门<span class="l">2</span>读卡器</div>

</body>
</html>
